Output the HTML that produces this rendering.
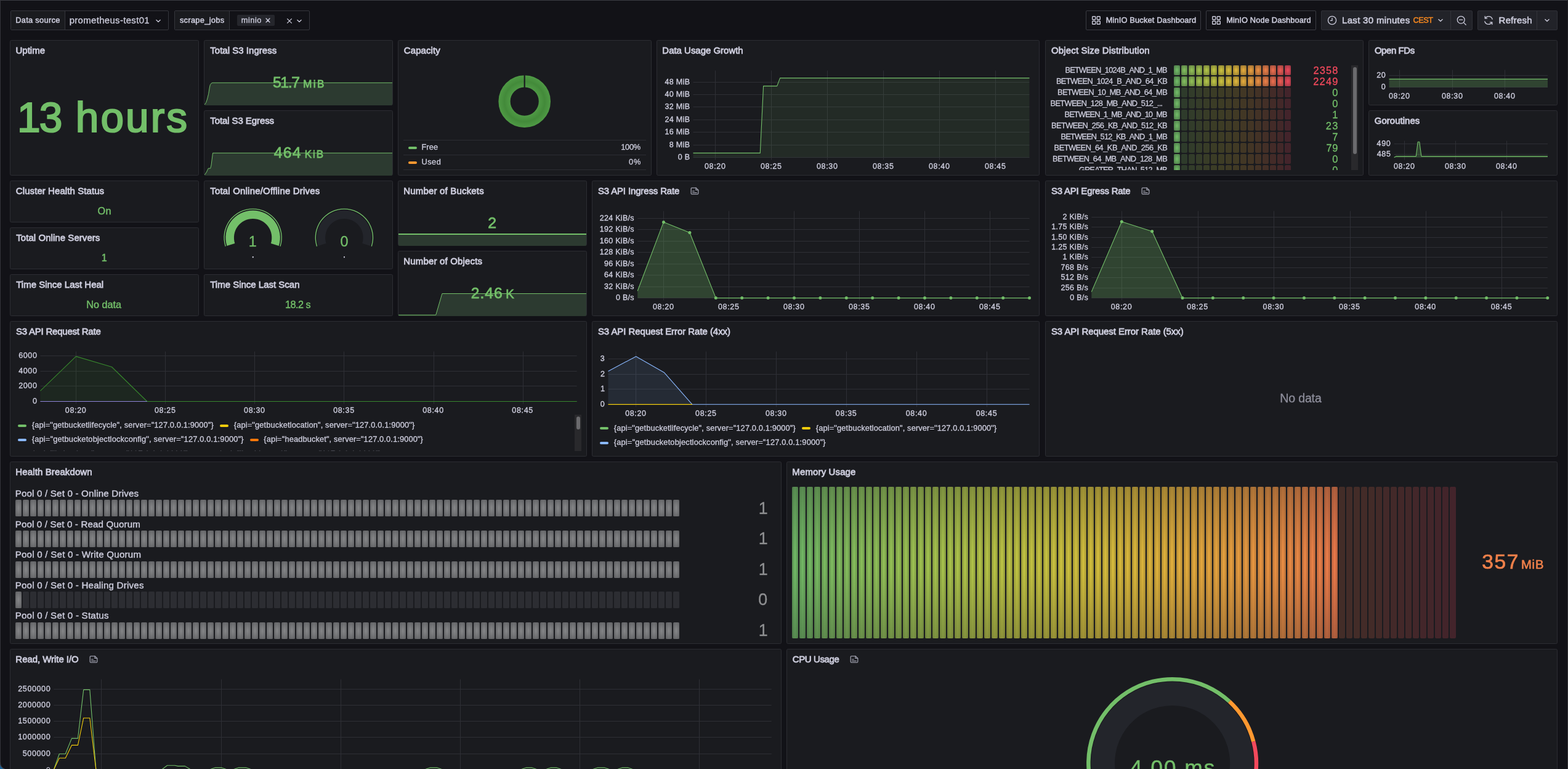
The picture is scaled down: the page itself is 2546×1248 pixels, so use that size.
<!DOCTYPE html>
<html lang="en"><head><meta charset="utf-8"><title>MinIO Dashboard</title>
<style>
*{box-sizing:border-box;margin:0;padding:0}
html,body{width:2546px;height:1248px;overflow:hidden;background:#121217}
body{position:relative;font-family:'Liberation Sans',sans-serif;color:#ccccdc;-webkit-font-smoothing:antialiased}
.panel{position:absolute;background:#1a1b1f;border:1px solid #2c2d33;border-radius:2.5px}
.t{position:absolute;white-space:pre;font-weight:400;margin:0}
h2.t{font-weight:400}
.b{position:absolute}
svg{position:absolute;overflow:visible}
svg text{font-family:'Liberation Sans',sans-serif;white-space:pre}
.ctl{position:absolute;border:1px solid #34363d;border-radius:2px;height:32px;top:17px}
</style></head>
<body>
<main>
<div class="chrome">
<div class="b" style="left:0;top:0;width:2546px;height:1px;background:#3c3d43"></div>
<div class="b" style="left:0;top:0;width:1px;height:1248px;background:#34353b"></div>
<div class="b" style="left:2545px;top:0;width:1px;height:1248px;background:linear-gradient(#1f1f23,#38383b)"></div>
<svg style="left:0;top:1236px;z-index:5" width="12" height="12" viewBox="0 1236 12 12"><path d="M0 1237.2 A10.3 10.3 0 0 0 7 1248 L0 1248 Z" fill="#1b5f93"/><path d="M0.5 1237 A10 10 0 0 0 7.5 1248" fill="none" stroke="#3e3f45" stroke-width="1.2"/></svg>
</div>
<header class="controls">
<div class="ctl" style="left:17px;width:257px;border-color:#35363c"></div>
<div class="b" style="left:18px;top:18px;width:88px;height:30px;background:#1a1b1f;border-right:1px solid #35363c;border-radius:2px 0 0 2px"></div>
<label class="t" style="left:25.2px;top:25px;font-size:12.84px;line-height:15px;color:#ccccdc;letter-spacing:0.3px;-webkit-text-stroke:0.5px #ccccdc;">Data source</label>
<span class="t" style="left:112.68px;top:24px;font-size:14.98px;line-height:17px;color:#ccccdc;letter-spacing:0.32px;-webkit-text-stroke:0.3px #ccccdc;">prometheus-test01</span>
<svg style="left:251px;top:27.8px" width="12" height="12" viewBox="-6 -6 12 12"><path d="M-3.1 -1.55 L0 1.55 L3.1 -1.55" fill="none" stroke="#ccccdc" stroke-width="1.3" stroke-linecap="round" stroke-linejoin="round"/></svg>
<div class="ctl" style="left:283px;width:220px;border-color:#35363c"></div>
<div class="b" style="left:284px;top:18px;width:89px;height:30px;background:#1a1b1f;border-right:1px solid #35363c;border-radius:2px 0 0 2px"></div>
<label class="t" style="left:291.89px;top:25px;font-size:12.84px;line-height:15px;color:#ccccdc;letter-spacing:0.31px;-webkit-text-stroke:0.5px #ccccdc;">scrape_jobs</label>
<div class="b" style="left:385px;top:24px;width:61px;height:18px;background:#25262c;border-radius:2px"></div>
<span class="t" style="left:391.8px;top:25px;font-size:12.84px;line-height:15px;color:#ccccdc;letter-spacing:0.48px;-webkit-text-stroke:0.3px #ccccdc;">minio</span>
<svg style="left:429px;top:27px" width="12" height="12" viewBox="-6 -6 12 12"><path d="M-2.9 -2.9 L2.9 2.9 M2.9 -2.9 L-2.9 2.9" fill="none" stroke="#ccccdc" stroke-width="1.4" stroke-linecap="round"/></svg>
<svg style="left:464px;top:28px" width="12" height="12" viewBox="-6 -6 12 12"><path d="M-3.4 -3.4 L3.4 3.4 M3.4 -3.4 L-3.4 3.4" fill="none" stroke="#ccccdc" stroke-width="1.3" stroke-linecap="round"/></svg>
<svg style="left:480px;top:28px" width="12" height="12" viewBox="-6 -6 12 12"><path d="M-3.1 -1.55 L0 1.55 L3.1 -1.55" fill="none" stroke="#ccccdc" stroke-width="1.3" stroke-linecap="round" stroke-linejoin="round"/></svg>
<div class="ctl" style="left:1763px;width:187px;border-color:#3a3b42"></div>
<svg style="left:1773px;top:26px" width="14" height="14" viewBox="0 0 14 14"><rect x="0.7" y="0.7" width="5" height="5" rx="0.8" fill="none" stroke="#ccccdc" stroke-width="1.4"/><rect x="8.3" y="0.7" width="5" height="5" rx="0.8" fill="none" stroke="#ccccdc" stroke-width="1.4"/><rect x="0.7" y="8.3" width="5" height="5" rx="0.8" fill="none" stroke="#ccccdc" stroke-width="1.4"/><rect x="8.3" y="8.3" width="5" height="5" rx="0.8" fill="none" stroke="#ccccdc" stroke-width="1.4"/></svg>
<span class="t" style="left:1795.7px;top:25px;font-size:12.84px;line-height:15px;color:#ccccdc;letter-spacing:0.15px;-webkit-text-stroke:0.5px #ccccdc;">MinIO Bucket Dashboard</span>
<div class="ctl" style="left:1958px;width:179px;border-color:#3a3b42"></div>
<svg style="left:1968px;top:26px" width="14" height="14" viewBox="0 0 14 14"><rect x="0.7" y="0.7" width="5" height="5" rx="0.8" fill="none" stroke="#ccccdc" stroke-width="1.4"/><rect x="8.3" y="0.7" width="5" height="5" rx="0.8" fill="none" stroke="#ccccdc" stroke-width="1.4"/><rect x="0.7" y="8.3" width="5" height="5" rx="0.8" fill="none" stroke="#ccccdc" stroke-width="1.4"/><rect x="8.3" y="8.3" width="5" height="5" rx="0.8" fill="none" stroke="#ccccdc" stroke-width="1.4"/></svg>
<span class="t" style="left:1991.2px;top:25px;font-size:12.84px;line-height:15px;color:#ccccdc;letter-spacing:0.14px;-webkit-text-stroke:0.5px #ccccdc;">MinIO Node Dashboard</span>
<div class="ctl" style="left:2145px;width:246px;background:#222329;border-color:#303138"></div>
<div class="b" style="left:2355px;top:18px;width:1px;height:30px;background:#34353b"></div>
<svg style="left:2155px;top:25px" width="16" height="16" viewBox="0 0 16 16"><circle cx="8" cy="8" r="6.6" fill="none" stroke="#ccccdc" stroke-width="1.3"/><path d="M8 4.3 V8.4 H5.4" fill="none" stroke="#ccccdc" stroke-width="1.3" stroke-linecap="round" stroke-linejoin="round"/></svg>
<span class="t" style="left:2179.07px;top:24px;font-size:14.98px;line-height:17px;color:#ccccdc;letter-spacing:0.32px;-webkit-text-stroke:0.6px #ccccdc;">Last 30 minutes</span>
<span class="t" style="left:2294.6px;top:25px;font-size:12.84px;line-height:15px;color:#f5871f;letter-spacing:-0.59px;-webkit-text-stroke:0.5px #f5871f;">CEST</span>
<svg style="left:2333px;top:27px" width="12" height="12" viewBox="-6 -6 12 12"><path d="M-3.1 -1.55 L0 1.55 L3.1 -1.55" fill="none" stroke="#ccccdc" stroke-width="1.3" stroke-linecap="round" stroke-linejoin="round"/></svg>
<svg style="left:2365px;top:25px" width="17" height="17" viewBox="0 0 17 17"><circle cx="7.2" cy="7.2" r="5.9" fill="none" stroke="#ccccdc" stroke-width="1.3"/><path d="M4.6 7.2 H9.8 M11.6 11.6 L15.2 15.2" fill="none" stroke="#ccccdc" stroke-width="1.3" stroke-linecap="round"/></svg>
<div class="ctl" style="left:2399px;width:130px;background:#222329;border-color:#303138"></div>
<div class="b" style="left:2495px;top:18px;width:1px;height:30px;background:#34353b"></div>
<svg style="left:2409px;top:25px" width="16" height="16" viewBox="0 0 16 16"><g fill="none" stroke="#ccccdc" stroke-width="1.3" stroke-linecap="round" stroke-linejoin="round"><path d="M14.2 6.2 A6.4 6.4 0 0 0 2.6 4.6"/><path d="M1.8 9.8 A6.4 6.4 0 0 0 13.4 11.4"/><path d="M2.2 1.4 V4.8 H5.6"/><path d="M13.8 14.6 V11.2 H10.4"/></g></svg>
<span class="t" style="left:2433.57px;top:24px;font-size:14.98px;line-height:17px;color:#ccccdc;letter-spacing:0.28px;-webkit-text-stroke:0.6px #ccccdc;">Refresh</span>
<svg style="left:2506px;top:27px" width="12" height="12" viewBox="-6 -6 12 12"><path d="M-3.1 -1.55 L0 1.55 L3.1 -1.55" fill="none" stroke="#ccccdc" stroke-width="1.3" stroke-linecap="round" stroke-linejoin="round"/></svg>
</header>
<section class="p" id="panel-uptime" aria-label="Uptime">
<div class="panel" style="left:16px;top:65px;width:307px;height:220px"></div>
<h2 class="t" style="left:25.44px;top:73px;font-size:14.98px;line-height:17px;color:#ccccdc;letter-spacing:0.04px;-webkit-text-stroke:0.8px #ccccdc;">Uptime</h2>
<div class="big"><span class="t" style="left:27.88px;top:153px;font-size:67.6px;line-height:75px;color:#73bf69;letter-spacing:-1.8px;-webkit-text-stroke:2.2px #73bf69;">13 </span><span class="t" style="left:122.81px;top:153px;font-size:67.6px;line-height:75px;color:#73bf69;letter-spacing:3.06px;-webkit-text-stroke:2.2px #73bf69;">hours</span></div>
</section>
<section class="p" id="panel-ingress" aria-label="Total S3 Ingress">
<div class="panel" style="left:331px;top:65px;width:307px;height:106px"></div>
<h2 class="t" style="left:341.26px;top:73px;font-size:14.98px;line-height:17px;color:#ccccdc;letter-spacing:0.04px;-webkit-text-stroke:0.8px #ccccdc;">Total S3 Ingress</h2>
<svg style="left:331px;top:65px" width="307" height="106" viewBox="331 65 307 106"><clipPath id="c331_65"><rect x="332" y="65" width="305" height="106" rx="2.5"/></clipPath><g clip-path="url(#c331_65)"><path d="M332 170.2 L334.5 166.5 L336.5 161 L338.6 152.5 L340.3 142 L341.3 137.6 L343 135.3 L344.9 134.3 L637 134.3 L637 134.3 L637 171 L332 171 Z" fill="#2c3a30"/><path d="M332 170.2 L334.5 166.5 L336.5 161 L338.6 152.5 L340.3 142 L341.3 137.6 L343 135.3 L344.9 134.3 L637 134.3 L637 134.3" fill="none" stroke="#73bf69" stroke-width="1" stroke-linejoin="round"/></g></svg>
<span class="t" style="left:442.91px;top:120px;font-size:24.72px;line-height:27px;color:#73bf69;letter-spacing:-1.3px;-webkit-text-stroke:0.8px #73bf69;">51.7</span>
<span class="t" style="left:492.21px;top:127px;font-size:16.96px;line-height:19px;color:#73bf69;letter-spacing:2.51px;-webkit-text-stroke:0.8px #73bf69;">MiB</span>
</section>
<section class="p" id="panel-egress" aria-label="Total S3 Egress">
<div class="panel" style="left:331px;top:179px;width:307px;height:106px"></div>
<h2 class="t" style="left:341.26px;top:187px;font-size:14.98px;line-height:17px;color:#ccccdc;letter-spacing:-0.07px;-webkit-text-stroke:0.8px #ccccdc;">Total S3 Egress</h2>
<svg style="left:331px;top:179px" width="307" height="106" viewBox="331 179 307 106"><clipPath id="c331_179"><rect x="332" y="179" width="305" height="106" rx="2.5"/></clipPath><g clip-path="url(#c331_179)"><path d="M332 284.2 L335.5 279 L338.3 273.2 L341.7 273.2 L343 268 L345.5 248.3 L637 248.3 L637 248.3 L637 285 L332 285 Z" fill="#2c3a30"/><path d="M332 284.2 L335.5 279 L338.3 273.2 L341.7 273.2 L343 268 L345.5 248.3 L637 248.3 L637 248.3" fill="none" stroke="#73bf69" stroke-width="1" stroke-linejoin="round"/></g></svg>
<span class="t" style="left:444.63px;top:234px;font-size:24.72px;line-height:27px;color:#73bf69;letter-spacing:1.27px;-webkit-text-stroke:0.8px #73bf69;">464</span>
<span class="t" style="left:494.71px;top:241px;font-size:16.96px;line-height:19px;color:#73bf69;letter-spacing:2.01px;-webkit-text-stroke:0.8px #73bf69;">KiB</span>
</section>
<section class="p" id="panel-capacity" aria-label="Capacity">
<div class="panel" style="left:646px;top:65px;width:412px;height:220px"></div>
<h2 class="t" style="left:655.84px;top:73px;font-size:14.98px;line-height:17px;color:#ccccdc;letter-spacing:0.09px;-webkit-text-stroke:0.8px #ccccdc;">Capacity</h2>
<svg style="left:646px;top:65px" width="412" height="220" viewBox="646 65 412 220" ><defs><radialGradient id="pie" gradientUnits="userSpaceOnUse" cx="851.7" cy="164.6" r="42.3"><stop offset="0.546" stop-color="#4f9a45"/><stop offset="0.773" stop-color="#438a3a"/><stop offset="1" stop-color="#4f9a45"/></radialGradient></defs><circle cx="851.7" cy="164.6" r="32.7" fill="none" stroke="url(#pie)" stroke-width="19.199999999999996"/><path d="M851.7 121.3 V142.5" stroke="#1a1b1f" stroke-width="2.2"/></svg>
<div class="b" style="left:655px;top:227px;width:394px;height:1px;background:#2c2d33"></div>
<div class="b" style="left:655px;top:251px;width:394px;height:1px;background:#2c2d33"></div>
<div class="b" style="left:655px;top:275px;width:394px;height:1px;background:#2c2d33"></div>
<div class="b" style="left:663px;top:238px;width:14px;height:4px;border-radius:2px;background:#73bf69"></div>
<span class="t" style="left:684.4px;top:231px;font-size:12.84px;line-height:15px;color:#ccccdc;letter-spacing:0.14px;-webkit-text-stroke:0.3px #ccccdc;">Free</span>
<span class="t" style="left:1008.17px;top:231px;font-size:12.84px;line-height:15px;color:#ccccdc;letter-spacing:-0.23px;-webkit-text-stroke:0.3px #ccccdc;">100%</span>
<div class="b" style="left:663px;top:262px;width:14px;height:4px;border-radius:2px;background:#ff9830"></div>
<span class="t" style="left:684.46px;top:255px;font-size:12.84px;line-height:15px;color:#ccccdc;letter-spacing:0.46px;-webkit-text-stroke:0.3px #ccccdc;">Used</span>
<span class="t" style="left:1021.05px;top:255px;font-size:12.84px;line-height:15px;color:#ccccdc;letter-spacing:0.71px;-webkit-text-stroke:0.3px #ccccdc;">0%</span>
</section>
<section class="p" id="panel-growth" aria-label="Data Usage Growth">
<div class="panel" style="left:1066px;top:65px;width:622px;height:220px"></div>
<h2 class="t" style="left:1075.37px;top:73px;font-size:14.98px;line-height:17px;color:#ccccdc;letter-spacing:-0.01px;-webkit-text-stroke:0.8px #ccccdc;">Data Usage Growth</h2>
<svg style="left:1066px;top:65px" width="622" height="220" viewBox="1066 65 622 220" ><path d="M1125.5 133.5H1671.5M1125.5 153.5H1671.5M1125.5 173.5H1671.5M1125.5 194.5H1671.5M1125.5 214.5H1671.5M1125.5 235.5H1671.5M1125.5 255.5H1671.5M1161.5 114.5V259.5M1252.5 114.5V259.5M1343.5 114.5V259.5M1434.5 114.5V259.5M1525.5 114.5V259.5M1616.5 114.5V259.5" fill="none" stroke="#2e2f35" stroke-width="1"/><path d="M1125.5 248.4 L1234.3 248.4 L1239.6 139.6 L1261.7 139.6 L1266.6 126.6 L1671.5 126.6 L1671.5 255.5 L1125.5 255.5 Z" fill="#73bf69" fill-opacity="0.1"/><path d="M1125.5 248.4 L1234.3 248.4 L1239.6 139.6 L1261.7 139.6 L1266.6 126.6 L1671.5 126.6" fill="none" stroke="#73bf69" stroke-width="1.1" stroke-linejoin="round" /><text x="1079.47" y="137.1" fill="#ccccdc" stroke="#ccccdc" stroke-width="0.35" style="font-size:12.5px;letter-spacing:0.32px;">48 MiB</text><text x="1079.47" y="157.1" fill="#ccccdc" stroke="#ccccdc" stroke-width="0.35" style="font-size:12.5px;letter-spacing:0.32px;">40 MiB</text><text x="1079.48" y="177.1" fill="#ccccdc" stroke="#ccccdc" stroke-width="0.35" style="font-size:12.5px;letter-spacing:0.32px;">32 MiB</text><text x="1079.49" y="198.1" fill="#ccccdc" stroke="#ccccdc" stroke-width="0.35" style="font-size:12.5px;letter-spacing:0.32px;">24 MiB</text><text x="1079.51" y="218.1" fill="#ccccdc" stroke="#ccccdc" stroke-width="0.35" style="font-size:12.5px;letter-spacing:0.31px;">16 MiB</text><text x="1086.79" y="239.1" fill="#ccccdc" stroke="#ccccdc" stroke-width="0.35" style="font-size:12.5px;letter-spacing:0.31px;">8 MiB</text><text x="1100.67" y="259.1" fill="#ccccdc" stroke="#ccccdc" stroke-width="0.35" style="font-size:12.5px;letter-spacing:0.28px;">0 B</text><text x="1143.94" y="273.6" fill="#ccccdc" stroke="#ccccdc" stroke-width="0.35" style="font-size:12.5px;letter-spacing:0.66px;">08:20</text><text x="1234.94" y="273.6" fill="#ccccdc" stroke="#ccccdc" stroke-width="0.35" style="font-size:12.5px;letter-spacing:0.67px;">08:25</text><text x="1325.94" y="273.6" fill="#ccccdc" stroke="#ccccdc" stroke-width="0.35" style="font-size:12.5px;letter-spacing:0.66px;">08:30</text><text x="1416.94" y="273.6" fill="#ccccdc" stroke="#ccccdc" stroke-width="0.35" style="font-size:12.5px;letter-spacing:0.67px;">08:35</text><text x="1507.94" y="273.6" fill="#ccccdc" stroke="#ccccdc" stroke-width="0.35" style="font-size:12.5px;letter-spacing:0.66px;">08:40</text><text x="1598.94" y="273.6" fill="#ccccdc" stroke="#ccccdc" stroke-width="0.35" style="font-size:12.5px;letter-spacing:0.67px;">08:45</text></svg>
</section>
<section class="p" id="panel-objsize" aria-label="Object Size Distribution">
<div class="panel" style="left:1697px;top:65px;width:517px;height:220px"></div>
<h2 class="t" style="left:1706.89px;top:73px;font-size:14.98px;line-height:17px;color:#ccccdc;letter-spacing:0.18px;-webkit-text-stroke:0.8px #ccccdc;">Object Size Distribution</h2>
<div class="b" style="left:1700px;top:106px;width:495px;height:170px;overflow:hidden"><span class="t" style="left:29.5px;top:0px;font-size:12.84px;line-height:15px;color:#ccccdc;letter-spacing:-0.78px;-webkit-text-stroke:0.3px #ccccdc;">BETWEEN_1024B_AND_1_MB</span><span class="t" style="left:432.53px;top:-1px;font-size:16.4px;line-height:18px;color:#f2495c;letter-spacing:1.12px;-webkit-text-stroke:0.3px #f2495c;">2358</span><span class="t" style="left:14.9px;top:18px;font-size:12.84px;line-height:15px;color:#ccccdc;letter-spacing:-0.6px;-webkit-text-stroke:0.3px #ccccdc;">BETWEEN_1024_B_AND_64_KB</span><span class="t" style="left:432.23px;top:17px;font-size:16.4px;line-height:18px;color:#f2495c;letter-spacing:1.24px;-webkit-text-stroke:0.3px #f2495c;">2249</span><span class="t" style="left:17px;top:36px;font-size:12.84px;line-height:15px;color:#ccccdc;letter-spacing:-0.66px;-webkit-text-stroke:0.3px #ccccdc;">BETWEEN_10_MB_AND_64_MB</span><span class="t" style="left:463.17px;top:35px;font-size:16.4px;line-height:18px;color:#73bf69;-webkit-text-stroke:0.3px #73bf69;">0</span><span class="t" style="left:5.5px;top:54px;font-size:12.84px;line-height:15px;color:#ccccdc;letter-spacing:-0.65px;-webkit-text-stroke:0.3px #ccccdc;">BETWEEN_128_MB_AND_512_...</span><span class="t" style="left:463.17px;top:53px;font-size:16.4px;line-height:18px;color:#73bf69;-webkit-text-stroke:0.3px #73bf69;">0</span><span class="t" style="left:28.5px;top:72px;font-size:12.84px;line-height:15px;color:#ccccdc;letter-spacing:-0.9px;-webkit-text-stroke:0.3px #ccccdc;">BETWEEN_1_MB_AND_10_MB</span><span class="t" style="left:463.33px;top:71px;font-size:16.4px;line-height:18px;color:#73bf69;-webkit-text-stroke:0.3px #73bf69;">1</span><span class="t" style="left:7.1px;top:90px;font-size:12.84px;line-height:15px;color:#ccccdc;letter-spacing:-0.61px;-webkit-text-stroke:0.3px #ccccdc;">BETWEEN_256_KB_AND_512_KB</span><span class="t" style="left:452.73px;top:89px;font-size:16.4px;line-height:18px;color:#73bf69;letter-spacing:1.41px;-webkit-text-stroke:0.3px #73bf69;">23</span><span class="t" style="left:22.5px;top:108px;font-size:12.84px;line-height:15px;color:#ccccdc;letter-spacing:-0.81px;-webkit-text-stroke:0.3px #ccccdc;">BETWEEN_512_KB_AND_1_MB</span><span class="t" style="left:463.35px;top:107px;font-size:16.4px;line-height:18px;color:#73bf69;-webkit-text-stroke:0.3px #73bf69;">7</span><span class="t" style="left:11.6px;top:126px;font-size:12.84px;line-height:15px;color:#ccccdc;letter-spacing:-0.52px;-webkit-text-stroke:0.3px #ccccdc;">BETWEEN_64_KB_AND_256_KB</span><span class="t" style="left:453.51px;top:125px;font-size:16.4px;line-height:18px;color:#73bf69;letter-spacing:0.68px;-webkit-text-stroke:0.3px #73bf69;">79</span><span class="t" style="left:9px;top:144px;font-size:12.84px;line-height:15px;color:#ccccdc;letter-spacing:-0.59px;-webkit-text-stroke:0.3px #ccccdc;">BETWEEN_64_MB_AND_128_MB</span><span class="t" style="left:463.17px;top:143px;font-size:16.4px;line-height:18px;color:#73bf69;-webkit-text-stroke:0.3px #73bf69;">0</span><span class="t" style="left:51.7px;top:162px;font-size:12.84px;line-height:15px;color:#ccccdc;letter-spacing:-0.78px;-webkit-text-stroke:0.3px #ccccdc;">GREATER_THAN_512_MB</span><span class="t" style="left:463.17px;top:161px;font-size:16.4px;line-height:18px;color:#73bf69;-webkit-text-stroke:0.3px #73bf69;">0</span><div class="b" style="left:200px;top:0;width:295px;height:180px"><svg style="left:0;top:0" width="300" height="180" viewBox="1900 106 300 180"><defs><radialGradient id="lcdg" cx="0.5" cy="0.5" r="0.7071"><stop offset="0.1" stop-color="#1a1b1f" stop-opacity="0"/><stop offset="1" stop-color="#1a1b1f" stop-opacity="0.42"/></radialGradient></defs><rect x="1906" y="106" width="10" height="16" rx="2" fill="#6fb765"/><rect x="1918" y="106" width="10" height="16" rx="2" fill="#80bb5d"/><rect x="1930" y="106" width="10" height="16" rx="2" fill="#90be56"/><rect x="1942" y="106" width="10" height="16" rx="2" fill="#a0c14f"/><rect x="1954" y="106" width="10" height="16" rx="2" fill="#b0c248"/><rect x="1966" y="106" width="10" height="16" rx="2" fill="#bdc243"/><rect x="1978" y="106" width="10" height="16" rx="2" fill="#cac03f"/><rect x="1990" y="106" width="10" height="16" rx="2" fill="#d4bb3c"/><rect x="2002" y="106" width="10" height="16" rx="2" fill="#dcb43b"/><rect x="2014" y="106" width="10" height="16" rx="2" fill="#e2a93c"/><rect x="2026" y="106" width="10" height="16" rx="2" fill="#e69d3f"/><rect x="2038" y="106" width="10" height="16" rx="2" fill="#e88e42"/><rect x="2050" y="106" width="10" height="16" rx="2" fill="#e97d47"/><rect x="2062" y="106" width="10" height="16" rx="2" fill="#e96c4d"/><rect x="2074" y="106" width="10" height="16" rx="2" fill="#e85a53"/><rect x="2086" y="106" width="10" height="16" rx="2" fill="#e74759"/><rect x="1906" y="106" width="10" height="16" rx="2" fill="url(#lcdg)"/><rect x="1918" y="106" width="10" height="16" rx="2" fill="url(#lcdg)"/><rect x="1930" y="106" width="10" height="16" rx="2" fill="url(#lcdg)"/><rect x="1942" y="106" width="10" height="16" rx="2" fill="url(#lcdg)"/><rect x="1954" y="106" width="10" height="16" rx="2" fill="url(#lcdg)"/><rect x="1966" y="106" width="10" height="16" rx="2" fill="url(#lcdg)"/><rect x="1978" y="106" width="10" height="16" rx="2" fill="url(#lcdg)"/><rect x="1990" y="106" width="10" height="16" rx="2" fill="url(#lcdg)"/><rect x="2002" y="106" width="10" height="16" rx="2" fill="url(#lcdg)"/><rect x="2014" y="106" width="10" height="16" rx="2" fill="url(#lcdg)"/><rect x="2026" y="106" width="10" height="16" rx="2" fill="url(#lcdg)"/><rect x="2038" y="106" width="10" height="16" rx="2" fill="url(#lcdg)"/><rect x="2050" y="106" width="10" height="16" rx="2" fill="url(#lcdg)"/><rect x="2062" y="106" width="10" height="16" rx="2" fill="url(#lcdg)"/><rect x="2074" y="106" width="10" height="16" rx="2" fill="url(#lcdg)"/><rect x="2086" y="106" width="10" height="16" rx="2" fill="url(#lcdg)"/><rect x="1906" y="124" width="10" height="16" rx="2" fill="#6fb765"/><rect x="1918" y="124" width="10" height="16" rx="2" fill="#80bb5d"/><rect x="1930" y="124" width="10" height="16" rx="2" fill="#90be56"/><rect x="1942" y="124" width="10" height="16" rx="2" fill="#a0c14f"/><rect x="1954" y="124" width="10" height="16" rx="2" fill="#b0c248"/><rect x="1966" y="124" width="10" height="16" rx="2" fill="#bdc243"/><rect x="1978" y="124" width="10" height="16" rx="2" fill="#cac03f"/><rect x="1990" y="124" width="10" height="16" rx="2" fill="#d4bb3c"/><rect x="2002" y="124" width="10" height="16" rx="2" fill="#dcb43b"/><rect x="2014" y="124" width="10" height="16" rx="2" fill="#e2a93c"/><rect x="2026" y="124" width="10" height="16" rx="2" fill="#e69d3f"/><rect x="2038" y="124" width="10" height="16" rx="2" fill="#e88e42"/><rect x="2050" y="124" width="10" height="16" rx="2" fill="#e97d47"/><rect x="2062" y="124" width="10" height="16" rx="2" fill="#e96c4d"/><rect x="2074" y="124" width="10" height="16" rx="2" fill="#e85a53"/><rect x="2086" y="124" width="10" height="16" rx="2" fill="#e74759"/><rect x="1906" y="124" width="10" height="16" rx="2" fill="url(#lcdg)"/><rect x="1918" y="124" width="10" height="16" rx="2" fill="url(#lcdg)"/><rect x="1930" y="124" width="10" height="16" rx="2" fill="url(#lcdg)"/><rect x="1942" y="124" width="10" height="16" rx="2" fill="url(#lcdg)"/><rect x="1954" y="124" width="10" height="16" rx="2" fill="url(#lcdg)"/><rect x="1966" y="124" width="10" height="16" rx="2" fill="url(#lcdg)"/><rect x="1978" y="124" width="10" height="16" rx="2" fill="url(#lcdg)"/><rect x="1990" y="124" width="10" height="16" rx="2" fill="url(#lcdg)"/><rect x="2002" y="124" width="10" height="16" rx="2" fill="url(#lcdg)"/><rect x="2014" y="124" width="10" height="16" rx="2" fill="url(#lcdg)"/><rect x="2026" y="124" width="10" height="16" rx="2" fill="url(#lcdg)"/><rect x="2038" y="124" width="10" height="16" rx="2" fill="url(#lcdg)"/><rect x="2050" y="124" width="10" height="16" rx="2" fill="url(#lcdg)"/><rect x="2062" y="124" width="10" height="16" rx="2" fill="url(#lcdg)"/><rect x="2074" y="124" width="10" height="16" rx="2" fill="url(#lcdg)"/><rect x="2086" y="124" width="10" height="16" rx="2" fill="url(#lcdg)"/><rect x="1906" y="142" width="10" height="16" rx="2" fill="#6fb765"/><rect x="1918" y="142" width="10" height="16" rx="2" fill="#2e3b2b"/><rect x="1930" y="142" width="10" height="16" rx="2" fill="#323c2a"/><rect x="1942" y="142" width="10" height="16" rx="2" fill="#353c29"/><rect x="1954" y="142" width="10" height="16" rx="2" fill="#383c27"/><rect x="1966" y="142" width="10" height="16" rx="2" fill="#3b3c26"/><rect x="1978" y="142" width="10" height="16" rx="2" fill="#3d3c25"/><rect x="1990" y="142" width="10" height="16" rx="2" fill="#3f3b25"/><rect x="2002" y="142" width="10" height="16" rx="2" fill="#413a25"/><rect x="2014" y="142" width="10" height="16" rx="2" fill="#423725"/><rect x="2026" y="142" width="10" height="16" rx="2" fill="#433525"/><rect x="2038" y="142" width="10" height="16" rx="2" fill="#433226"/><rect x="2050" y="142" width="10" height="16" rx="2" fill="#432f27"/><rect x="2062" y="142" width="10" height="16" rx="2" fill="#432b28"/><rect x="2074" y="142" width="10" height="16" rx="2" fill="#432829"/><rect x="2086" y="142" width="10" height="16" rx="2" fill="#43242b"/><rect x="1906" y="142" width="10" height="16" rx="2" fill="url(#lcdg)"/><rect x="1906" y="160" width="10" height="16" rx="2" fill="#6fb765"/><rect x="1918" y="160" width="10" height="16" rx="2" fill="#2e3b2b"/><rect x="1930" y="160" width="10" height="16" rx="2" fill="#323c2a"/><rect x="1942" y="160" width="10" height="16" rx="2" fill="#353c29"/><rect x="1954" y="160" width="10" height="16" rx="2" fill="#383c27"/><rect x="1966" y="160" width="10" height="16" rx="2" fill="#3b3c26"/><rect x="1978" y="160" width="10" height="16" rx="2" fill="#3d3c25"/><rect x="1990" y="160" width="10" height="16" rx="2" fill="#3f3b25"/><rect x="2002" y="160" width="10" height="16" rx="2" fill="#413a25"/><rect x="2014" y="160" width="10" height="16" rx="2" fill="#423725"/><rect x="2026" y="160" width="10" height="16" rx="2" fill="#433525"/><rect x="2038" y="160" width="10" height="16" rx="2" fill="#433226"/><rect x="2050" y="160" width="10" height="16" rx="2" fill="#432f27"/><rect x="2062" y="160" width="10" height="16" rx="2" fill="#432b28"/><rect x="2074" y="160" width="10" height="16" rx="2" fill="#432829"/><rect x="2086" y="160" width="10" height="16" rx="2" fill="#43242b"/><rect x="1906" y="160" width="10" height="16" rx="2" fill="url(#lcdg)"/><rect x="1906" y="178" width="10" height="16" rx="2" fill="#6fb765"/><rect x="1918" y="178" width="10" height="16" rx="2" fill="#2e3b2b"/><rect x="1930" y="178" width="10" height="16" rx="2" fill="#323c2a"/><rect x="1942" y="178" width="10" height="16" rx="2" fill="#353c29"/><rect x="1954" y="178" width="10" height="16" rx="2" fill="#383c27"/><rect x="1966" y="178" width="10" height="16" rx="2" fill="#3b3c26"/><rect x="1978" y="178" width="10" height="16" rx="2" fill="#3d3c25"/><rect x="1990" y="178" width="10" height="16" rx="2" fill="#3f3b25"/><rect x="2002" y="178" width="10" height="16" rx="2" fill="#413a25"/><rect x="2014" y="178" width="10" height="16" rx="2" fill="#423725"/><rect x="2026" y="178" width="10" height="16" rx="2" fill="#433525"/><rect x="2038" y="178" width="10" height="16" rx="2" fill="#433226"/><rect x="2050" y="178" width="10" height="16" rx="2" fill="#432f27"/><rect x="2062" y="178" width="10" height="16" rx="2" fill="#432b28"/><rect x="2074" y="178" width="10" height="16" rx="2" fill="#432829"/><rect x="2086" y="178" width="10" height="16" rx="2" fill="#43242b"/><rect x="1906" y="178" width="10" height="16" rx="2" fill="url(#lcdg)"/><rect x="1906" y="196" width="10" height="16" rx="2" fill="#6fb765"/><rect x="1918" y="196" width="10" height="16" rx="2" fill="#2e3b2b"/><rect x="1930" y="196" width="10" height="16" rx="2" fill="#323c2a"/><rect x="1942" y="196" width="10" height="16" rx="2" fill="#353c29"/><rect x="1954" y="196" width="10" height="16" rx="2" fill="#383c27"/><rect x="1966" y="196" width="10" height="16" rx="2" fill="#3b3c26"/><rect x="1978" y="196" width="10" height="16" rx="2" fill="#3d3c25"/><rect x="1990" y="196" width="10" height="16" rx="2" fill="#3f3b25"/><rect x="2002" y="196" width="10" height="16" rx="2" fill="#413a25"/><rect x="2014" y="196" width="10" height="16" rx="2" fill="#423725"/><rect x="2026" y="196" width="10" height="16" rx="2" fill="#433525"/><rect x="2038" y="196" width="10" height="16" rx="2" fill="#433226"/><rect x="2050" y="196" width="10" height="16" rx="2" fill="#432f27"/><rect x="2062" y="196" width="10" height="16" rx="2" fill="#432b28"/><rect x="2074" y="196" width="10" height="16" rx="2" fill="#432829"/><rect x="2086" y="196" width="10" height="16" rx="2" fill="#43242b"/><rect x="1906" y="196" width="10" height="16" rx="2" fill="url(#lcdg)"/><rect x="1906" y="214" width="10" height="16" rx="2" fill="#6fb765"/><rect x="1918" y="214" width="10" height="16" rx="2" fill="#2e3b2b"/><rect x="1930" y="214" width="10" height="16" rx="2" fill="#323c2a"/><rect x="1942" y="214" width="10" height="16" rx="2" fill="#353c29"/><rect x="1954" y="214" width="10" height="16" rx="2" fill="#383c27"/><rect x="1966" y="214" width="10" height="16" rx="2" fill="#3b3c26"/><rect x="1978" y="214" width="10" height="16" rx="2" fill="#3d3c25"/><rect x="1990" y="214" width="10" height="16" rx="2" fill="#3f3b25"/><rect x="2002" y="214" width="10" height="16" rx="2" fill="#413a25"/><rect x="2014" y="214" width="10" height="16" rx="2" fill="#423725"/><rect x="2026" y="214" width="10" height="16" rx="2" fill="#433525"/><rect x="2038" y="214" width="10" height="16" rx="2" fill="#433226"/><rect x="2050" y="214" width="10" height="16" rx="2" fill="#432f27"/><rect x="2062" y="214" width="10" height="16" rx="2" fill="#432b28"/><rect x="2074" y="214" width="10" height="16" rx="2" fill="#432829"/><rect x="2086" y="214" width="10" height="16" rx="2" fill="#43242b"/><rect x="1906" y="214" width="10" height="16" rx="2" fill="url(#lcdg)"/><rect x="1906" y="232" width="10" height="16" rx="2" fill="#6fb765"/><rect x="1918" y="232" width="10" height="16" rx="2" fill="#2e3b2b"/><rect x="1930" y="232" width="10" height="16" rx="2" fill="#323c2a"/><rect x="1942" y="232" width="10" height="16" rx="2" fill="#353c29"/><rect x="1954" y="232" width="10" height="16" rx="2" fill="#383c27"/><rect x="1966" y="232" width="10" height="16" rx="2" fill="#3b3c26"/><rect x="1978" y="232" width="10" height="16" rx="2" fill="#3d3c25"/><rect x="1990" y="232" width="10" height="16" rx="2" fill="#3f3b25"/><rect x="2002" y="232" width="10" height="16" rx="2" fill="#413a25"/><rect x="2014" y="232" width="10" height="16" rx="2" fill="#423725"/><rect x="2026" y="232" width="10" height="16" rx="2" fill="#433525"/><rect x="2038" y="232" width="10" height="16" rx="2" fill="#433226"/><rect x="2050" y="232" width="10" height="16" rx="2" fill="#432f27"/><rect x="2062" y="232" width="10" height="16" rx="2" fill="#432b28"/><rect x="2074" y="232" width="10" height="16" rx="2" fill="#432829"/><rect x="2086" y="232" width="10" height="16" rx="2" fill="#43242b"/><rect x="1906" y="232" width="10" height="16" rx="2" fill="url(#lcdg)"/><rect x="1906" y="250" width="10" height="16" rx="2" fill="#6fb765"/><rect x="1918" y="250" width="10" height="16" rx="2" fill="#2e3b2b"/><rect x="1930" y="250" width="10" height="16" rx="2" fill="#323c2a"/><rect x="1942" y="250" width="10" height="16" rx="2" fill="#353c29"/><rect x="1954" y="250" width="10" height="16" rx="2" fill="#383c27"/><rect x="1966" y="250" width="10" height="16" rx="2" fill="#3b3c26"/><rect x="1978" y="250" width="10" height="16" rx="2" fill="#3d3c25"/><rect x="1990" y="250" width="10" height="16" rx="2" fill="#3f3b25"/><rect x="2002" y="250" width="10" height="16" rx="2" fill="#413a25"/><rect x="2014" y="250" width="10" height="16" rx="2" fill="#423725"/><rect x="2026" y="250" width="10" height="16" rx="2" fill="#433525"/><rect x="2038" y="250" width="10" height="16" rx="2" fill="#433226"/><rect x="2050" y="250" width="10" height="16" rx="2" fill="#432f27"/><rect x="2062" y="250" width="10" height="16" rx="2" fill="#432b28"/><rect x="2074" y="250" width="10" height="16" rx="2" fill="#432829"/><rect x="2086" y="250" width="10" height="16" rx="2" fill="#43242b"/><rect x="1906" y="250" width="10" height="16" rx="2" fill="url(#lcdg)"/><rect x="1906" y="268" width="10" height="16" rx="2" fill="#6fb765"/><rect x="1918" y="268" width="10" height="16" rx="2" fill="#2e3b2b"/><rect x="1930" y="268" width="10" height="16" rx="2" fill="#323c2a"/><rect x="1942" y="268" width="10" height="16" rx="2" fill="#353c29"/><rect x="1954" y="268" width="10" height="16" rx="2" fill="#383c27"/><rect x="1966" y="268" width="10" height="16" rx="2" fill="#3b3c26"/><rect x="1978" y="268" width="10" height="16" rx="2" fill="#3d3c25"/><rect x="1990" y="268" width="10" height="16" rx="2" fill="#3f3b25"/><rect x="2002" y="268" width="10" height="16" rx="2" fill="#413a25"/><rect x="2014" y="268" width="10" height="16" rx="2" fill="#423725"/><rect x="2026" y="268" width="10" height="16" rx="2" fill="#433525"/><rect x="2038" y="268" width="10" height="16" rx="2" fill="#433226"/><rect x="2050" y="268" width="10" height="16" rx="2" fill="#432f27"/><rect x="2062" y="268" width="10" height="16" rx="2" fill="#432b28"/><rect x="2074" y="268" width="10" height="16" rx="2" fill="#432829"/><rect x="2086" y="268" width="10" height="16" rx="2" fill="#43242b"/><rect x="1906" y="268" width="10" height="16" rx="2" fill="url(#lcdg)"/></svg></div></div>
<div class="b" style="left:2194px;top:106px;width:11px;height:170px;background:#29292c"></div>
<div class="b" style="left:2197px;top:109px;width:6px;height:141px;background:#6a6a6d;border-radius:3px"></div>
</section>
<section class="p" id="panel-fds" aria-label="Open FDs">
<div class="panel" style="left:2222px;top:65px;width:307px;height:106px"></div>
<h2 class="t" style="left:2231.89px;top:73px;font-size:14.98px;line-height:17px;color:#ccccdc;letter-spacing:-0.41px;-webkit-text-stroke:0.8px #ccccdc;">Open FDs</h2>
<svg style="left:2222px;top:65px" width="307" height="106" viewBox="2222 65 307 106" ><path d="M2255.5 122.5H2513M2255.5 141.5H2513M2272.5 113.5V145.5M2358.5 113.5V145.5M2443.5 113.5V145.5" fill="none" stroke="#2e2f35" stroke-width="1"/><path d="M2255.5 128.4 L2513 128.4 L2513 141.5 L2255.5 141.5 Z" fill="#73bf69" fill-opacity="0.25"/><path d="M2255.5 128.4 L2513 128.4" fill="none" stroke="#73bf69" stroke-width="1.2" stroke-linejoin="round" /><text x="2235.16" y="126.1" fill="#ccccdc" stroke="#ccccdc" stroke-width="0.35" style="font-size:12.5px;letter-spacing:0.75px;">20</text><text x="2242.86" y="145.1" fill="#ccccdc" stroke="#ccccdc" stroke-width="0.35" style="font-size:12.5px;">0</text><text x="2254.94" y="159.5" fill="#ccccdc" stroke="#ccccdc" stroke-width="0.35" style="font-size:12.5px;letter-spacing:0.66px;">08:20</text><text x="2340.94" y="159.5" fill="#ccccdc" stroke="#ccccdc" stroke-width="0.35" style="font-size:12.5px;letter-spacing:0.66px;">08:30</text><text x="2425.94" y="159.5" fill="#ccccdc" stroke="#ccccdc" stroke-width="0.35" style="font-size:12.5px;letter-spacing:0.66px;">08:40</text></svg>
</section>
<section class="p" id="panel-gor" aria-label="Goroutines">
<div class="panel" style="left:2222px;top:179px;width:307px;height:106px"></div>
<h2 class="t" style="left:2231.85px;top:187px;font-size:14.98px;line-height:17px;color:#ccccdc;letter-spacing:0.02px;-webkit-text-stroke:0.8px #ccccdc;">Goroutines</h2>
<svg style="left:2222px;top:179px" width="307" height="106" viewBox="2222 179 307 106" ><path d="M2263.7 233.5H2513M2263.7 250.5H2513M2280.5 228.5V259.5M2363.5 228.5V259.5M2446.5 228.5V259.5" fill="none" stroke="#2e2f35" stroke-width="1"/><path d="M2263.7 255.5 L2266.8 253.6 L2299.3 253.6 L2302.2 230.3 L2304.8 230.3 L2307.9 253.6 L2513 253.6 L2513 255.8 L2263.7 255.8 Z" fill="#73bf69" fill-opacity="0.25"/><path d="M2263.7 255.5 L2266.8 253.6 L2299.3 253.6 L2302.2 230.3 L2304.8 230.3 L2307.9 253.6 L2513 253.6" fill="none" stroke="#73bf69" stroke-width="1.1" stroke-linejoin="round" /><text x="2235.59" y="236.5" fill="#ccccdc" stroke="#ccccdc" stroke-width="0.35" style="font-size:12.5px;letter-spacing:0.68px;">490</text><text x="2235.63" y="253.5" fill="#ccccdc" stroke="#ccccdc" stroke-width="0.35" style="font-size:12.5px;letter-spacing:0.68px;">485</text><text x="2262.94" y="273.5" fill="#ccccdc" stroke="#ccccdc" stroke-width="0.35" style="font-size:12.5px;letter-spacing:0.66px;">08:20</text><text x="2345.94" y="273.5" fill="#ccccdc" stroke="#ccccdc" stroke-width="0.35" style="font-size:12.5px;letter-spacing:0.66px;">08:30</text><text x="2428.94" y="273.5" fill="#ccccdc" stroke="#ccccdc" stroke-width="0.35" style="font-size:12.5px;letter-spacing:0.66px;">08:40</text></svg>
</section>
<section class="p" id="panel-health" aria-label="Cluster Health Status">
<div class="panel" style="left:16px;top:293px;width:307px;height:68px"></div>
<h2 class="t" style="left:25.84px;top:301px;font-size:14.98px;line-height:17px;color:#ccccdc;letter-spacing:0.09px;-webkit-text-stroke:0.8px #ccccdc;">Cluster Health Status</h2>
<span class="t" style="left:158.53px;top:333px;font-size:16.2px;line-height:18px;color:#73bf69;letter-spacing:0.41px;-webkit-text-stroke:0.4px #73bf69;">On</span>
</section>
<section class="p" id="panel-servers" aria-label="Total Online Servers">
<div class="panel" style="left:16px;top:369px;width:307px;height:68px"></div>
<h2 class="t" style="left:26.26px;top:377px;font-size:14.98px;line-height:17px;color:#ccccdc;letter-spacing:0.07px;-webkit-text-stroke:0.8px #ccccdc;">Total Online Servers</h2>
<span class="t" style="left:164.77px;top:409px;font-size:16.2px;line-height:18px;color:#73bf69;-webkit-text-stroke:0.4px #73bf69;">1</span>
</section>
<section class="p" id="panel-heal" aria-label="Time Since Last Heal">
<div class="panel" style="left:16px;top:445px;width:307px;height:68px"></div>
<h2 class="t" style="left:26.26px;top:453px;font-size:14.98px;line-height:17px;color:#ccccdc;letter-spacing:0.01px;-webkit-text-stroke:0.8px #ccccdc;">Time Since Last Heal</h2>
<span class="t" style="left:140.17px;top:485px;font-size:16.2px;line-height:18px;color:#73bf69;letter-spacing:0.04px;-webkit-text-stroke:0.4px #73bf69;">No data</span>
</section>
<section class="p" id="panel-drives" aria-label="Total Online/Offline Drives">
<div class="panel" style="left:331px;top:293px;width:307px;height:144px"></div>
<h2 class="t" style="left:341.26px;top:301px;font-size:14.98px;line-height:17px;color:#ccccdc;letter-spacing:0.2px;-webkit-text-stroke:0.8px #ccccdc;">Total Online/Offline Drives</h2>
<svg style="left:331px;top:293px" width="307" height="144" viewBox="331 293 307 144" ><path d="M365.56 399.99 A47.25 47.25 0 1 1 455.64 399.99 L454.35 399.58 A45.9 45.9 0 1 0 366.85 399.58 Z" fill="#73bf69"/><path d="M368.47 399.06 A44.2 44.2 0 1 1 452.73 399.06 L439.86 394.98 A30.7 30.7 0 1 0 381.34 394.98 Z" fill="#73bf69"/><text x="403.77" y="400" fill="#73bf69" stroke="#73bf69" stroke-width="0.3" style="font-size:23.4px;">1</text><text x="408.65" y="417.8" fill="#d8d8e8" stroke="#d8d8e8" stroke-width="0.5" style="font-size:14px;">.</text><path d="M513.86 399.99 A47.25 47.25 0 1 1 603.94 399.99 L602.65 399.58 A45.9 45.9 0 1 0 515.15 399.58 Z" fill="#73bf69"/><path d="M516.77 399.06 A44.2 44.2 0 1 1 601.03 399.06 L588.16 394.98 A30.7 30.7 0 1 0 529.64 394.98 Z" fill="#23252b"/><text x="552.39" y="400" fill="#73bf69" stroke="#73bf69" stroke-width="0.3" style="font-size:23.4px;">0</text><text x="556.95" y="417.8" fill="#d8d8e8" stroke="#d8d8e8" stroke-width="0.5" style="font-size:14px;">.</text></svg>
</section>
<section class="p" id="panel-scan" aria-label="Time Since Last Scan">
<div class="panel" style="left:331px;top:445px;width:307px;height:68px"></div>
<h2 class="t" style="left:341.26px;top:453px;font-size:14.98px;line-height:17px;color:#ccccdc;letter-spacing:0.01px;-webkit-text-stroke:0.8px #ccccdc;">Time Since Last Scan</h2>
<span class="t" style="left:463.07px;top:485px;font-size:16.2px;line-height:18px;color:#73bf69;letter-spacing:-0.5px;-webkit-text-stroke:0.4px #73bf69;">18.2 s</span>
</section>
<section class="p" id="panel-buckets" aria-label="Number of Buckets">
<div class="panel" style="left:646px;top:293px;width:307px;height:106px"></div>
<h2 class="t" style="left:655.37px;top:301px;font-size:14.98px;line-height:17px;color:#ccccdc;letter-spacing:0.19px;-webkit-text-stroke:0.8px #ccccdc;">Number of Buckets</h2>
<svg style="left:646px;top:293px" width="307" height="106" viewBox="646 293 307 106"><clipPath id="c646_293"><rect x="647" y="293" width="305" height="106" rx="2.5"/></clipPath><g clip-path="url(#c646_293)"><path d="M647 379.9 L952 379.9 L952 379.9 L952 399 L647 399 Z" fill="#2c3a30"/><path d="M647 379.9 L952 379.9 L952 379.9" fill="none" stroke="#73bf69" stroke-width="2" stroke-linejoin="round"/></g></svg>
<span class="t" style="left:792.16px;top:348px;font-size:24.72px;line-height:27px;color:#73bf69;-webkit-text-stroke:0.8px #73bf69;">2</span>
</section>
<section class="p" id="panel-objects" aria-label="Number of Objects">
<div class="panel" style="left:646px;top:407px;width:307px;height:106px"></div>
<h2 class="t" style="left:655.37px;top:415px;font-size:14.98px;line-height:17px;color:#ccccdc;letter-spacing:0.18px;-webkit-text-stroke:0.8px #ccccdc;">Number of Objects</h2>
<svg style="left:646px;top:407px" width="307" height="106" viewBox="646 407 307 106"><clipPath id="c646_407"><rect x="647" y="407" width="305" height="106" rx="2.5"/></clipPath><g clip-path="url(#c646_407)"><path d="M647 511.2 L707.7 511.2 L717.9 476.5 L952 476.5 L952 476.5 L952 513 L647 513 Z" fill="#2c3a30"/><path d="M647 511.2 L707.7 511.2 L717.9 476.5 L952 476.5 L952 476.5" fill="none" stroke="#73bf69" stroke-width="1" stroke-linejoin="round"/></g></svg>
<span class="t" style="left:764.76px;top:462px;font-size:24.72px;line-height:27px;color:#73bf69;letter-spacing:0.97px;-webkit-text-stroke:0.8px #73bf69;">2.46</span>
<span class="t" style="left:821.15px;top:466px;font-size:20.14px;line-height:22px;color:#73bf69;-webkit-text-stroke:0.8px #73bf69;">K</span>
</section>
<section class="p" id="panel-inrate" aria-label="S3 API Ingress Rate">
<div class="panel" style="left:961px;top:293px;width:727px;height:220px"></div>
<h2 class="t" style="left:970.92px;top:301px;font-size:14.98px;line-height:17px;color:#ccccdc;letter-spacing:-0.13px;-webkit-text-stroke:0.8px #ccccdc;">S3 API Ingress Rate</h2>
<svg style="left:961px;top:293px" width="727" height="220" viewBox="961 293 727 220" ><path d="M1035.2 354.5H1671.5M1035.2 372.5H1671.5M1035.2 391.5H1671.5M1035.2 409.5H1671.5M1035.2 428.5H1671.5M1035.2 446.5H1671.5M1035.2 465.5H1671.5M1035.2 483.5H1671.5M1077.5 342.5V487.5M1183.5 342.5V487.5M1289.5 342.5V487.5M1395.5 342.5V487.5M1501.5 342.5V487.5M1607.5 342.5V487.5" fill="none" stroke="#2e2f35" stroke-width="1"/><path d="M1035.2 472.3 L1077.5 360.4 L1119.9 377.5 L1162.3 483.6 L1204.7 483.6 L1247.1 483.6 L1289.5 483.6 L1331.9 483.6 L1374.3 483.6 L1416.7 483.6 L1459.1 483.6 L1501.5 483.6 L1543.9 483.6 L1586.3 483.6 L1628.7 483.6 L1671.5 483.6 L1671.5 483.6 L1035.2 483.6 Z" fill="#73bf69" fill-opacity="0.25"/><path d="M1035.2 472.3 L1077.5 360.4 L1119.9 377.5 L1162.3 483.6 L1204.7 483.6 L1247.1 483.6 L1289.5 483.6 L1331.9 483.6 L1374.3 483.6 L1416.7 483.6 L1459.1 483.6 L1501.5 483.6 L1543.9 483.6 L1586.3 483.6 L1628.7 483.6 L1671.5 483.6" fill="none" stroke="#73bf69" stroke-width="1.1" stroke-linejoin="round" /><circle cx="1077.5" cy="360.4" r="2.5" fill="#73bf69"/><circle cx="1119.9" cy="377.5" r="2.5" fill="#73bf69"/><circle cx="1162.3" cy="483.6" r="2.5" fill="#73bf69"/><circle cx="1204.7" cy="483.6" r="2.5" fill="#73bf69"/><circle cx="1247.1" cy="483.6" r="2.5" fill="#73bf69"/><circle cx="1289.5" cy="483.6" r="2.5" fill="#73bf69"/><circle cx="1331.9" cy="483.6" r="2.5" fill="#73bf69"/><circle cx="1374.3" cy="483.6" r="2.5" fill="#73bf69"/><circle cx="1416.7" cy="483.6" r="2.5" fill="#73bf69"/><circle cx="1459.1" cy="483.6" r="2.5" fill="#73bf69"/><circle cx="1501.5" cy="483.6" r="2.5" fill="#73bf69"/><circle cx="1543.9" cy="483.6" r="2.5" fill="#73bf69"/><circle cx="1586.3" cy="483.6" r="2.5" fill="#73bf69"/><circle cx="1628.7" cy="483.6" r="2.5" fill="#73bf69"/><circle cx="1671.5" cy="483.6" r="2.5" fill="#73bf69"/><text x="973.73" y="358.1" fill="#ccccdc" stroke="#ccccdc" stroke-width="0.35" style="font-size:12.5px;letter-spacing:0.29px;">224 KiB/s</text><text x="973.74" y="376.1" fill="#ccccdc" stroke="#ccccdc" stroke-width="0.35" style="font-size:12.5px;letter-spacing:0.29px;">192 KiB/s</text><text x="973.74" y="395.1" fill="#ccccdc" stroke="#ccccdc" stroke-width="0.35" style="font-size:12.5px;letter-spacing:0.29px;">160 KiB/s</text><text x="973.74" y="413.1" fill="#ccccdc" stroke="#ccccdc" stroke-width="0.35" style="font-size:12.5px;letter-spacing:0.29px;">128 KiB/s</text><text x="981.03" y="432.1" fill="#ccccdc" stroke="#ccccdc" stroke-width="0.35" style="font-size:12.5px;letter-spacing:0.28px;">96 KiB/s</text><text x="981.03" y="450.1" fill="#ccccdc" stroke="#ccccdc" stroke-width="0.35" style="font-size:12.5px;letter-spacing:0.28px;">64 KiB/s</text><text x="981.02" y="469.1" fill="#ccccdc" stroke="#ccccdc" stroke-width="0.35" style="font-size:12.5px;letter-spacing:0.28px;">32 KiB/s</text><text x="1000.02" y="487.1" fill="#ccccdc" stroke="#ccccdc" stroke-width="0.35" style="font-size:12.5px;letter-spacing:0.27px;">0 B/s</text><text x="1059.94" y="501.8" fill="#ccccdc" stroke="#ccccdc" stroke-width="0.35" style="font-size:12.5px;letter-spacing:0.66px;">08:20</text><text x="1165.94" y="501.8" fill="#ccccdc" stroke="#ccccdc" stroke-width="0.35" style="font-size:12.5px;letter-spacing:0.67px;">08:25</text><text x="1271.94" y="501.8" fill="#ccccdc" stroke="#ccccdc" stroke-width="0.35" style="font-size:12.5px;letter-spacing:0.66px;">08:30</text><text x="1377.94" y="501.8" fill="#ccccdc" stroke="#ccccdc" stroke-width="0.35" style="font-size:12.5px;letter-spacing:0.67px;">08:35</text><text x="1483.94" y="501.8" fill="#ccccdc" stroke="#ccccdc" stroke-width="0.35" style="font-size:12.5px;letter-spacing:0.66px;">08:40</text><text x="1589.94" y="501.8" fill="#ccccdc" stroke="#ccccdc" stroke-width="0.35" style="font-size:12.5px;letter-spacing:0.67px;">08:45</text></svg>
<svg style="left:1121px;top:303px" width="14" height="14" viewBox="0 0 14 14"><g fill="none" stroke="#9c9dab" stroke-width="1.3" stroke-linejoin="round" stroke-linecap="round"><path d="M1.2 3.2 Q1.2 1.8 2.6 1.8 H9 L12.8 5.4 V10.8 Q12.8 12.2 11.4 12.2 H2.6 Q1.2 12.2 1.2 10.8 Z"/><path d="M9 1.9 V5.4 H12.6"/><path d="M3.6 7.2 H6.2 M3.6 9.6 H10.2"/></g></svg>
</section>
<section class="p" id="panel-egrate" aria-label="S3 API Egress Rate">
<div class="panel" style="left:1697px;top:293px;width:832px;height:220px"></div>
<h2 class="t" style="left:1706.92px;top:301px;font-size:14.98px;line-height:17px;color:#ccccdc;letter-spacing:-0.21px;-webkit-text-stroke:0.8px #ccccdc;">S3 API Egress Rate</h2>
<svg style="left:1697px;top:293px" width="832" height="220" viewBox="1697 293 832 220" ><path d="M1772.3 352.5H2512.8M1772.3 368.5H2512.8M1772.3 385.5H2512.8M1772.3 401.5H2512.8M1772.3 417.5H2512.8M1772.3 434.5H2512.8M1772.3 450.5H2512.8M1772.3 467.5H2512.8M1772.3 483.5H2512.8M1821.5 342.5V487.5M1945.5 342.5V487.5M2068.5 342.5V487.5M2192.5 342.5V487.5M2315.5 342.5V487.5M2438.5 342.5V487.5" fill="none" stroke="#2e2f35" stroke-width="1"/><path d="M1772.3 473.6 L1821.3 359.7 L1870.66 375.5 L1920.02 483.6 L1969.38 483.6 L2018.74 483.6 L2068.1 483.6 L2117.46 483.6 L2166.82 483.6 L2216.18 483.6 L2265.54 483.6 L2314.9 483.6 L2364.26 483.6 L2413.62 483.6 L2462.98 483.6 L2512.8 483.6 L2512.8 483.6 L1772.3 483.6 Z" fill="#73bf69" fill-opacity="0.25"/><path d="M1772.3 473.6 L1821.3 359.7 L1870.66 375.5 L1920.02 483.6 L1969.38 483.6 L2018.74 483.6 L2068.1 483.6 L2117.46 483.6 L2166.82 483.6 L2216.18 483.6 L2265.54 483.6 L2314.9 483.6 L2364.26 483.6 L2413.62 483.6 L2462.98 483.6 L2512.8 483.6" fill="none" stroke="#73bf69" stroke-width="1.1" stroke-linejoin="round" /><circle cx="1821.3" cy="359.7" r="2.5" fill="#73bf69"/><circle cx="1870.66" cy="375.5" r="2.5" fill="#73bf69"/><circle cx="1920.02" cy="483.6" r="2.5" fill="#73bf69"/><circle cx="1969.38" cy="483.6" r="2.5" fill="#73bf69"/><circle cx="2018.74" cy="483.6" r="2.5" fill="#73bf69"/><circle cx="2068.1" cy="483.6" r="2.5" fill="#73bf69"/><circle cx="2117.46" cy="483.6" r="2.5" fill="#73bf69"/><circle cx="2166.82" cy="483.6" r="2.5" fill="#73bf69"/><circle cx="2216.18" cy="483.6" r="2.5" fill="#73bf69"/><circle cx="2265.54" cy="483.6" r="2.5" fill="#73bf69"/><circle cx="2314.9" cy="483.6" r="2.5" fill="#73bf69"/><circle cx="2364.26" cy="483.6" r="2.5" fill="#73bf69"/><circle cx="2413.62" cy="483.6" r="2.5" fill="#73bf69"/><circle cx="2462.98" cy="483.6" r="2.5" fill="#73bf69"/><circle cx="2512.8" cy="483.6" r="2.5" fill="#73bf69"/><text x="1725.55" y="356.1" fill="#ccccdc" stroke="#ccccdc" stroke-width="0.35" style="font-size:12.5px;letter-spacing:0.27px;">2 KiB/s</text><text x="1707.3" y="372.1" fill="#ccccdc" stroke="#ccccdc" stroke-width="0.35" style="font-size:12.5px;letter-spacing:0.28px;">1.75 KiB/s</text><text x="1707.3" y="389.1" fill="#ccccdc" stroke="#ccccdc" stroke-width="0.35" style="font-size:12.5px;letter-spacing:0.28px;">1.50 KiB/s</text><text x="1707.3" y="405.1" fill="#ccccdc" stroke="#ccccdc" stroke-width="0.35" style="font-size:12.5px;letter-spacing:0.28px;">1.25 KiB/s</text><text x="1725.57" y="421.1" fill="#ccccdc" stroke="#ccccdc" stroke-width="0.35" style="font-size:12.5px;letter-spacing:0.27px;">1 KiB/s</text><text x="1722.61" y="438.1" fill="#ccccdc" stroke="#ccccdc" stroke-width="0.35" style="font-size:12.5px;letter-spacing:0.3px;">768 B/s</text><text x="1722.61" y="454.1" fill="#ccccdc" stroke="#ccccdc" stroke-width="0.35" style="font-size:12.5px;letter-spacing:0.3px;">512 B/s</text><text x="1722.61" y="471.1" fill="#ccccdc" stroke="#ccccdc" stroke-width="0.35" style="font-size:12.5px;letter-spacing:0.3px;">256 B/s</text><text x="1737.22" y="487.1" fill="#ccccdc" stroke="#ccccdc" stroke-width="0.35" style="font-size:12.5px;letter-spacing:0.27px;">0 B/s</text><text x="1803.74" y="501.8" fill="#ccccdc" stroke="#ccccdc" stroke-width="0.35" style="font-size:12.5px;letter-spacing:0.66px;">08:20</text><text x="1927.14" y="501.8" fill="#ccccdc" stroke="#ccccdc" stroke-width="0.35" style="font-size:12.5px;letter-spacing:0.67px;">08:25</text><text x="2050.54" y="501.8" fill="#ccccdc" stroke="#ccccdc" stroke-width="0.35" style="font-size:12.5px;letter-spacing:0.66px;">08:30</text><text x="2173.94" y="501.8" fill="#ccccdc" stroke="#ccccdc" stroke-width="0.35" style="font-size:12.5px;letter-spacing:0.67px;">08:35</text><text x="2297.34" y="501.8" fill="#ccccdc" stroke="#ccccdc" stroke-width="0.35" style="font-size:12.5px;letter-spacing:0.66px;">08:40</text><text x="2420.74" y="501.8" fill="#ccccdc" stroke="#ccccdc" stroke-width="0.35" style="font-size:12.5px;letter-spacing:0.67px;">08:45</text></svg>
<svg style="left:1853px;top:303px" width="14" height="14" viewBox="0 0 14 14"><g fill="none" stroke="#9c9dab" stroke-width="1.3" stroke-linejoin="round" stroke-linecap="round"><path d="M1.2 3.2 Q1.2 1.8 2.6 1.8 H9 L12.8 5.4 V10.8 Q12.8 12.2 11.4 12.2 H2.6 Q1.2 12.2 1.2 10.8 Z"/><path d="M9 1.9 V5.4 H12.6"/><path d="M3.6 7.2 H6.2 M3.6 9.6 H10.2"/></g></svg>
</section>
<section class="p" id="panel-reqrate" aria-label="S3 API Request Rate">
<div class="panel" style="left:16px;top:521px;width:937px;height:220px"></div>
<h2 class="t" style="left:25.92px;top:529px;font-size:14.98px;line-height:17px;color:#ccccdc;letter-spacing:-0.2px;-webkit-text-stroke:0.8px #ccccdc;">S3 API Request Rate</h2>
<svg style="left:16px;top:521px" width="937" height="220" viewBox="16 521 937 220" ><path d="M65.4 577.5H936.7M65.4 602.5H936.7M65.4 626.5H936.7M65.4 651.5H936.7M123.5 570.5V655.5M268.5 570.5V655.5M413.5 570.5V655.5M558.5 570.5V655.5M704.5 570.5V655.5M849.5 570.5V655.5" fill="none" stroke="#2e2f35" stroke-width="1"/><path d="M65.4 634.4 L123.4 578.4 L181.5 595.5 L238.8 651.5 L936.7 651.5 L936.7 651.5 L65.4 651.5 Z" fill="#37872d" fill-opacity="0.12"/><path d="M65.4 634.4 L123.4 578.4 L181.5 595.5 L238.8 651.5 L936.7 651.5" fill="none" stroke="#37872d" stroke-width="1.1" stroke-linejoin="round" /><path d="M65.4 651.5 L238.8 651.5" fill="none" stroke="#8f83d8" stroke-width="1.1" stroke-linejoin="round" /><text x="30.18" y="580.9" fill="#ccccdc" stroke="#ccccdc" stroke-width="0.35" style="font-size:12.5px;letter-spacing:0.64px;">6000</text><text x="30.15" y="605.9" fill="#ccccdc" stroke="#ccccdc" stroke-width="0.35" style="font-size:12.5px;letter-spacing:0.65px;">4000</text><text x="30.18" y="629.9" fill="#ccccdc" stroke="#ccccdc" stroke-width="0.35" style="font-size:12.5px;letter-spacing:0.64px;">2000</text><text x="52.96" y="654.9" fill="#ccccdc" stroke="#ccccdc" stroke-width="0.35" style="font-size:12.5px;">0</text><text x="105.84" y="670.1" fill="#ccccdc" stroke="#ccccdc" stroke-width="0.35" style="font-size:12.5px;letter-spacing:0.66px;">08:20</text><text x="250.94" y="670.1" fill="#ccccdc" stroke="#ccccdc" stroke-width="0.35" style="font-size:12.5px;letter-spacing:0.67px;">08:25</text><text x="396.04" y="670.1" fill="#ccccdc" stroke="#ccccdc" stroke-width="0.35" style="font-size:12.5px;letter-spacing:0.66px;">08:30</text><text x="541.14" y="670.1" fill="#ccccdc" stroke="#ccccdc" stroke-width="0.35" style="font-size:12.5px;letter-spacing:0.67px;">08:35</text><text x="686.24" y="670.1" fill="#ccccdc" stroke="#ccccdc" stroke-width="0.35" style="font-size:12.5px;letter-spacing:0.66px;">08:40</text><text x="831.34" y="670.1" fill="#ccccdc" stroke="#ccccdc" stroke-width="0.35" style="font-size:12.5px;letter-spacing:0.67px;">08:45</text></svg>
<div class="b" style="left:29px;top:689px;width:14px;height:4px;border-radius:2px;background:#73bf69"></div>
<span class="t" style="left:51.74px;top:682px;font-size:12.84px;line-height:15px;color:#ccccdc;letter-spacing:0.13px;-webkit-text-stroke:0.3px #ccccdc;">{api="getbucketlifecycle", server="127.0.0.1:9000"}</span>
<div class="b" style="left:357px;top:689px;width:14px;height:4px;border-radius:2px;background:#f2cc0c"></div>
<span class="t" style="left:379.74px;top:682px;font-size:12.84px;line-height:15px;color:#ccccdc;letter-spacing:0.13px;-webkit-text-stroke:0.3px #ccccdc;">{api="getbucketlocation", server="127.0.0.1:9000"}</span>
<div class="b" style="left:29px;top:712.3px;width:14px;height:4px;border-radius:2px;background:#8ab8ff"></div>
<span class="t" style="left:51.74px;top:705px;font-size:12.84px;line-height:15px;color:#ccccdc;letter-spacing:0.17px;-webkit-text-stroke:0.3px #ccccdc;">{api="getbucketobjectlockconfig", server="127.0.0.1:9000"}</span>
<div class="b" style="left:406px;top:712.3px;width:14px;height:4px;border-radius:2px;background:#ff780a"></div>
<span class="t" style="left:428.24px;top:705px;font-size:12.84px;line-height:15px;color:#ccccdc;letter-spacing:0.12px;-webkit-text-stroke:0.3px #ccccdc;">{api="headbucket", server="127.0.0.1:9000"}</span>
<div class="b" style="left:25px;top:724px;width:900px;height:7.8px;overflow:hidden"><div class="b" style="left:4px;top:13px;width:14px;height:4px;border-radius:2px;background:#b877d9"></div><span class="t" style="left:26.74px;top:5px;font-size:12.84px;line-height:15px;color:#ccccdc;letter-spacing:0.19px;-webkit-text-stroke:0.3px #ccccdc;">{api="listbuckets", server="127.0.0.1:9000"}</span><div class="b" style="left:307px;top:13px;width:14px;height:4px;border-radius:2px;background:#f2495c"></div><span class="t" style="left:329.94px;top:5px;font-size:12.84px;line-height:15px;color:#ccccdc;letter-spacing:0.16px;-webkit-text-stroke:0.3px #ccccdc;">{api="listobjectsv2", server="127.0.0.1:9000"}</span></div>
<div class="b" style="left:933px;top:673px;width:11px;height:59px;background:#29292c"></div>
<div class="b" style="left:936px;top:676px;width:6px;height:21px;background:#6a6a6d;border-radius:3px"></div>
</section>
<section class="p" id="panel-err4" aria-label="S3 API Request Error Rate (4xx)">
<div class="panel" style="left:961px;top:521px;width:727px;height:220px"></div>
<h2 class="t" style="left:970.92px;top:529px;font-size:14.98px;line-height:17px;color:#ccccdc;letter-spacing:-0.04px;-webkit-text-stroke:0.8px #ccccdc;">S3 API Request Error Rate (4xx)</h2>
<svg style="left:961px;top:521px" width="727" height="220" viewBox="961 521 727 220" ><path d="M987.5 582.5H1671.5M987.5 607.5H1671.5M987.5 631.5H1671.5M987.5 656.5H1671.5M1032.5 570.5V660.5M1146.5 570.5V660.5M1260.5 570.5V660.5M1374.5 570.5V660.5M1488.5 570.5V660.5M1602.5 570.5V660.5" fill="none" stroke="#2e2f35" stroke-width="1"/><path d="M987.5 602.5 L1032.7 578.4 L1078.7 604.8 L1124 656.3 L1671.5 656.3 L1671.5 656.3 L987.5 656.3 Z" fill="#8ab8ff" fill-opacity="0.1"/><path d="M987.5 602.5 L1032.7 578.4 L1078.7 604.8 L1124 656.3 L1671.5 656.3" fill="none" stroke="#8ab8ff" stroke-width="1.1" stroke-linejoin="round" /><path d="M987.5 656.3 L1124 656.3" fill="none" stroke="#f2cc0c" stroke-width="1.2" stroke-linejoin="round" /><text x="974.82" y="585.9" fill="#ccccdc" stroke="#ccccdc" stroke-width="0.35" style="font-size:12.5px;">3</text><text x="974.9" y="610.9" fill="#ccccdc" stroke="#ccccdc" stroke-width="0.35" style="font-size:12.5px;">2</text><text x="974.88" y="634.9" fill="#ccccdc" stroke="#ccccdc" stroke-width="0.35" style="font-size:12.5px;">1</text><text x="974.76" y="659.9" fill="#ccccdc" stroke="#ccccdc" stroke-width="0.35" style="font-size:12.5px;">0</text><text x="1015.14" y="675.1" fill="#ccccdc" stroke="#ccccdc" stroke-width="0.35" style="font-size:12.5px;letter-spacing:0.66px;">08:20</text><text x="1129.04" y="675.1" fill="#ccccdc" stroke="#ccccdc" stroke-width="0.35" style="font-size:12.5px;letter-spacing:0.67px;">08:25</text><text x="1242.94" y="675.1" fill="#ccccdc" stroke="#ccccdc" stroke-width="0.35" style="font-size:12.5px;letter-spacing:0.66px;">08:30</text><text x="1356.84" y="675.1" fill="#ccccdc" stroke="#ccccdc" stroke-width="0.35" style="font-size:12.5px;letter-spacing:0.67px;">08:35</text><text x="1470.74" y="675.1" fill="#ccccdc" stroke="#ccccdc" stroke-width="0.35" style="font-size:12.5px;letter-spacing:0.66px;">08:40</text><text x="1584.64" y="675.1" fill="#ccccdc" stroke="#ccccdc" stroke-width="0.35" style="font-size:12.5px;letter-spacing:0.67px;">08:45</text></svg>
<div class="b" style="left:974px;top:693px;width:14px;height:4px;border-radius:2px;background:#73bf69"></div>
<span class="t" style="left:996.74px;top:687px;font-size:12.84px;line-height:15px;color:#ccccdc;letter-spacing:0.13px;-webkit-text-stroke:0.3px #ccccdc;">{api="getbucketlifecycle", server="127.0.0.1:9000"}</span>
<div class="b" style="left:1302px;top:693px;width:14px;height:4px;border-radius:2px;background:#f2cc0c"></div>
<span class="t" style="left:1324.74px;top:687px;font-size:12.84px;line-height:15px;color:#ccccdc;letter-spacing:0.13px;-webkit-text-stroke:0.3px #ccccdc;">{api="getbucketlocation", server="127.0.0.1:9000"}</span>
<div class="b" style="left:974px;top:716.5px;width:14px;height:4px;border-radius:2px;background:#8ab8ff"></div>
<span class="t" style="left:996.74px;top:710px;font-size:12.84px;line-height:15px;color:#ccccdc;letter-spacing:0.17px;-webkit-text-stroke:0.3px #ccccdc;">{api="getbucketobjectlockconfig", server="127.0.0.1:9000"}</span>
</section>
<section class="p" id="panel-err5" aria-label="S3 API Request Error Rate (5xx)">
<div class="panel" style="left:1697px;top:521px;width:832px;height:220px"></div>
<h2 class="t" style="left:1706.92px;top:529px;font-size:14.98px;line-height:17px;color:#ccccdc;letter-spacing:-0.05px;-webkit-text-stroke:0.8px #ccccdc;">S3 API Request Error Rate (5xx)</h2>
<span class="t" style="left:2078.19px;top:635px;font-size:19.6px;line-height:22px;color:#8e8e9b;letter-spacing:-0.17px;-webkit-text-stroke:0.3px #8e8e9b;">No data</span>
</section>
<section class="p" id="panel-hb" aria-label="Health Breakdown">
<div class="panel" style="left:16px;top:749px;width:1253px;height:296px"></div>
<h2 class="t" style="left:25.37px;top:757px;font-size:14.98px;line-height:17px;color:#ccccdc;letter-spacing:0.13px;-webkit-text-stroke:0.8px #ccccdc;">Health Breakdown</h2>
<span class="t" style="left:24.66px;top:792px;font-size:15.1px;line-height:17px;color:#ccccdc;letter-spacing:0.2px;-webkit-text-stroke:0.4px #ccccdc;">Pool 0 / Set 0 - Online Drives</span>
<span class="t" style="left:1231.85px;top:810px;font-size:26.8px;line-height:30px;color:#8f9092;-webkit-text-stroke:0.3px #8f9092;">1</span>
<span class="t" style="left:24.66px;top:842px;font-size:15.1px;line-height:17px;color:#ccccdc;letter-spacing:0.16px;-webkit-text-stroke:0.4px #ccccdc;">Pool 0 / Set 0 - Read Quorum</span>
<span class="t" style="left:1231.85px;top:859px;font-size:26.8px;line-height:30px;color:#8f9092;-webkit-text-stroke:0.3px #8f9092;">1</span>
<span class="t" style="left:24.66px;top:891px;font-size:15.1px;line-height:17px;color:#ccccdc;letter-spacing:0.24px;-webkit-text-stroke:0.4px #ccccdc;">Pool 0 / Set 0 - Write Quorum</span>
<span class="t" style="left:1231.85px;top:909px;font-size:26.8px;line-height:30px;color:#8f9092;-webkit-text-stroke:0.3px #8f9092;">1</span>
<span class="t" style="left:24.66px;top:941px;font-size:15.1px;line-height:17px;color:#ccccdc;letter-spacing:0.22px;-webkit-text-stroke:0.4px #ccccdc;">Pool 0 / Set 0 - Healing Drives</span>
<span class="t" style="left:1231.19px;top:958px;font-size:26.8px;line-height:30px;color:#8f9092;-webkit-text-stroke:0.3px #8f9092;">0</span>
<span class="t" style="left:24.66px;top:990px;font-size:15.1px;line-height:17px;color:#ccccdc;letter-spacing:0.23px;-webkit-text-stroke:0.4px #ccccdc;">Pool 0 / Set 0 - Status</span>
<span class="t" style="left:1231.85px;top:1008px;font-size:26.8px;line-height:30px;color:#8f9092;-webkit-text-stroke:0.3px #8f9092;">1</span>
<svg style="left:16px;top:749px" width="1253" height="296" viewBox="16 749 1253 296" ><defs><radialGradient id="hbg" cx="0.5" cy="0.5" r="0.7071"><stop offset="0.1" stop-color="#828385"/><stop offset="1" stop-color="#5c5d60"/></radialGradient></defs><rect x="25" y="811" width="10" height="27" rx="1.5" fill="url(#hbg)"/><rect x="37" y="811" width="10" height="27" rx="1.5" fill="url(#hbg)"/><rect x="49" y="811" width="10" height="27" rx="1.5" fill="url(#hbg)"/><rect x="61" y="811" width="10" height="27" rx="1.5" fill="url(#hbg)"/><rect x="73" y="811" width="10" height="27" rx="1.5" fill="url(#hbg)"/><rect x="85" y="811" width="10" height="27" rx="1.5" fill="url(#hbg)"/><rect x="97" y="811" width="10" height="27" rx="1.5" fill="url(#hbg)"/><rect x="109" y="811" width="10" height="27" rx="1.5" fill="url(#hbg)"/><rect x="121" y="811" width="10" height="27" rx="1.5" fill="url(#hbg)"/><rect x="133" y="811" width="10" height="27" rx="1.5" fill="url(#hbg)"/><rect x="145" y="811" width="10" height="27" rx="1.5" fill="url(#hbg)"/><rect x="157" y="811" width="10" height="27" rx="1.5" fill="url(#hbg)"/><rect x="169" y="811" width="10" height="27" rx="1.5" fill="url(#hbg)"/><rect x="181" y="811" width="10" height="27" rx="1.5" fill="url(#hbg)"/><rect x="193" y="811" width="10" height="27" rx="1.5" fill="url(#hbg)"/><rect x="205" y="811" width="10" height="27" rx="1.5" fill="url(#hbg)"/><rect x="217" y="811" width="10" height="27" rx="1.5" fill="url(#hbg)"/><rect x="229" y="811" width="10" height="27" rx="1.5" fill="url(#hbg)"/><rect x="241" y="811" width="10" height="27" rx="1.5" fill="url(#hbg)"/><rect x="253" y="811" width="10" height="27" rx="1.5" fill="url(#hbg)"/><rect x="265" y="811" width="10" height="27" rx="1.5" fill="url(#hbg)"/><rect x="277" y="811" width="10" height="27" rx="1.5" fill="url(#hbg)"/><rect x="289" y="811" width="10" height="27" rx="1.5" fill="url(#hbg)"/><rect x="301" y="811" width="10" height="27" rx="1.5" fill="url(#hbg)"/><rect x="313" y="811" width="10" height="27" rx="1.5" fill="url(#hbg)"/><rect x="325" y="811" width="10" height="27" rx="1.5" fill="url(#hbg)"/><rect x="337" y="811" width="10" height="27" rx="1.5" fill="url(#hbg)"/><rect x="349" y="811" width="10" height="27" rx="1.5" fill="url(#hbg)"/><rect x="361" y="811" width="10" height="27" rx="1.5" fill="url(#hbg)"/><rect x="373" y="811" width="10" height="27" rx="1.5" fill="url(#hbg)"/><rect x="385" y="811" width="10" height="27" rx="1.5" fill="url(#hbg)"/><rect x="397" y="811" width="10" height="27" rx="1.5" fill="url(#hbg)"/><rect x="409" y="811" width="10" height="27" rx="1.5" fill="url(#hbg)"/><rect x="421" y="811" width="10" height="27" rx="1.5" fill="url(#hbg)"/><rect x="433" y="811" width="10" height="27" rx="1.5" fill="url(#hbg)"/><rect x="445" y="811" width="10" height="27" rx="1.5" fill="url(#hbg)"/><rect x="457" y="811" width="10" height="27" rx="1.5" fill="url(#hbg)"/><rect x="469" y="811" width="10" height="27" rx="1.5" fill="url(#hbg)"/><rect x="481" y="811" width="10" height="27" rx="1.5" fill="url(#hbg)"/><rect x="493" y="811" width="10" height="27" rx="1.5" fill="url(#hbg)"/><rect x="505" y="811" width="10" height="27" rx="1.5" fill="url(#hbg)"/><rect x="517" y="811" width="10" height="27" rx="1.5" fill="url(#hbg)"/><rect x="529" y="811" width="10" height="27" rx="1.5" fill="url(#hbg)"/><rect x="541" y="811" width="10" height="27" rx="1.5" fill="url(#hbg)"/><rect x="553" y="811" width="10" height="27" rx="1.5" fill="url(#hbg)"/><rect x="565" y="811" width="10" height="27" rx="1.5" fill="url(#hbg)"/><rect x="577" y="811" width="10" height="27" rx="1.5" fill="url(#hbg)"/><rect x="589" y="811" width="10" height="27" rx="1.5" fill="url(#hbg)"/><rect x="601" y="811" width="10" height="27" rx="1.5" fill="url(#hbg)"/><rect x="613" y="811" width="10" height="27" rx="1.5" fill="url(#hbg)"/><rect x="625" y="811" width="10" height="27" rx="1.5" fill="url(#hbg)"/><rect x="637" y="811" width="10" height="27" rx="1.5" fill="url(#hbg)"/><rect x="649" y="811" width="10" height="27" rx="1.5" fill="url(#hbg)"/><rect x="661" y="811" width="10" height="27" rx="1.5" fill="url(#hbg)"/><rect x="673" y="811" width="10" height="27" rx="1.5" fill="url(#hbg)"/><rect x="685" y="811" width="10" height="27" rx="1.5" fill="url(#hbg)"/><rect x="697" y="811" width="10" height="27" rx="1.5" fill="url(#hbg)"/><rect x="709" y="811" width="10" height="27" rx="1.5" fill="url(#hbg)"/><rect x="721" y="811" width="10" height="27" rx="1.5" fill="url(#hbg)"/><rect x="733" y="811" width="10" height="27" rx="1.5" fill="url(#hbg)"/><rect x="745" y="811" width="10" height="27" rx="1.5" fill="url(#hbg)"/><rect x="757" y="811" width="10" height="27" rx="1.5" fill="url(#hbg)"/><rect x="769" y="811" width="10" height="27" rx="1.5" fill="url(#hbg)"/><rect x="781" y="811" width="10" height="27" rx="1.5" fill="url(#hbg)"/><rect x="793" y="811" width="10" height="27" rx="1.5" fill="url(#hbg)"/><rect x="805" y="811" width="10" height="27" rx="1.5" fill="url(#hbg)"/><rect x="817" y="811" width="10" height="27" rx="1.5" fill="url(#hbg)"/><rect x="829" y="811" width="10" height="27" rx="1.5" fill="url(#hbg)"/><rect x="841" y="811" width="10" height="27" rx="1.5" fill="url(#hbg)"/><rect x="853" y="811" width="10" height="27" rx="1.5" fill="url(#hbg)"/><rect x="865" y="811" width="10" height="27" rx="1.5" fill="url(#hbg)"/><rect x="877" y="811" width="10" height="27" rx="1.5" fill="url(#hbg)"/><rect x="889" y="811" width="10" height="27" rx="1.5" fill="url(#hbg)"/><rect x="901" y="811" width="10" height="27" rx="1.5" fill="url(#hbg)"/><rect x="913" y="811" width="10" height="27" rx="1.5" fill="url(#hbg)"/><rect x="925" y="811" width="10" height="27" rx="1.5" fill="url(#hbg)"/><rect x="937" y="811" width="10" height="27" rx="1.5" fill="url(#hbg)"/><rect x="949" y="811" width="10" height="27" rx="1.5" fill="url(#hbg)"/><rect x="961" y="811" width="10" height="27" rx="1.5" fill="url(#hbg)"/><rect x="973" y="811" width="10" height="27" rx="1.5" fill="url(#hbg)"/><rect x="985" y="811" width="10" height="27" rx="1.5" fill="url(#hbg)"/><rect x="997" y="811" width="10" height="27" rx="1.5" fill="url(#hbg)"/><rect x="1009" y="811" width="10" height="27" rx="1.5" fill="url(#hbg)"/><rect x="1021" y="811" width="10" height="27" rx="1.5" fill="url(#hbg)"/><rect x="1033" y="811" width="10" height="27" rx="1.5" fill="url(#hbg)"/><rect x="1045" y="811" width="10" height="27" rx="1.5" fill="url(#hbg)"/><rect x="1057" y="811" width="10" height="27" rx="1.5" fill="url(#hbg)"/><rect x="1069" y="811" width="10" height="27" rx="1.5" fill="url(#hbg)"/><rect x="1081" y="811" width="10" height="27" rx="1.5" fill="url(#hbg)"/><rect x="1093" y="811" width="10" height="27" rx="1.5" fill="url(#hbg)"/><rect x="25" y="861" width="10" height="27" rx="1.5" fill="url(#hbg)"/><rect x="37" y="861" width="10" height="27" rx="1.5" fill="url(#hbg)"/><rect x="49" y="861" width="10" height="27" rx="1.5" fill="url(#hbg)"/><rect x="61" y="861" width="10" height="27" rx="1.5" fill="url(#hbg)"/><rect x="73" y="861" width="10" height="27" rx="1.5" fill="url(#hbg)"/><rect x="85" y="861" width="10" height="27" rx="1.5" fill="url(#hbg)"/><rect x="97" y="861" width="10" height="27" rx="1.5" fill="url(#hbg)"/><rect x="109" y="861" width="10" height="27" rx="1.5" fill="url(#hbg)"/><rect x="121" y="861" width="10" height="27" rx="1.5" fill="url(#hbg)"/><rect x="133" y="861" width="10" height="27" rx="1.5" fill="url(#hbg)"/><rect x="145" y="861" width="10" height="27" rx="1.5" fill="url(#hbg)"/><rect x="157" y="861" width="10" height="27" rx="1.5" fill="url(#hbg)"/><rect x="169" y="861" width="10" height="27" rx="1.5" fill="url(#hbg)"/><rect x="181" y="861" width="10" height="27" rx="1.5" fill="url(#hbg)"/><rect x="193" y="861" width="10" height="27" rx="1.5" fill="url(#hbg)"/><rect x="205" y="861" width="10" height="27" rx="1.5" fill="url(#hbg)"/><rect x="217" y="861" width="10" height="27" rx="1.5" fill="url(#hbg)"/><rect x="229" y="861" width="10" height="27" rx="1.5" fill="url(#hbg)"/><rect x="241" y="861" width="10" height="27" rx="1.5" fill="url(#hbg)"/><rect x="253" y="861" width="10" height="27" rx="1.5" fill="url(#hbg)"/><rect x="265" y="861" width="10" height="27" rx="1.5" fill="url(#hbg)"/><rect x="277" y="861" width="10" height="27" rx="1.5" fill="url(#hbg)"/><rect x="289" y="861" width="10" height="27" rx="1.5" fill="url(#hbg)"/><rect x="301" y="861" width="10" height="27" rx="1.5" fill="url(#hbg)"/><rect x="313" y="861" width="10" height="27" rx="1.5" fill="url(#hbg)"/><rect x="325" y="861" width="10" height="27" rx="1.5" fill="url(#hbg)"/><rect x="337" y="861" width="10" height="27" rx="1.5" fill="url(#hbg)"/><rect x="349" y="861" width="10" height="27" rx="1.5" fill="url(#hbg)"/><rect x="361" y="861" width="10" height="27" rx="1.5" fill="url(#hbg)"/><rect x="373" y="861" width="10" height="27" rx="1.5" fill="url(#hbg)"/><rect x="385" y="861" width="10" height="27" rx="1.5" fill="url(#hbg)"/><rect x="397" y="861" width="10" height="27" rx="1.5" fill="url(#hbg)"/><rect x="409" y="861" width="10" height="27" rx="1.5" fill="url(#hbg)"/><rect x="421" y="861" width="10" height="27" rx="1.5" fill="url(#hbg)"/><rect x="433" y="861" width="10" height="27" rx="1.5" fill="url(#hbg)"/><rect x="445" y="861" width="10" height="27" rx="1.5" fill="url(#hbg)"/><rect x="457" y="861" width="10" height="27" rx="1.5" fill="url(#hbg)"/><rect x="469" y="861" width="10" height="27" rx="1.5" fill="url(#hbg)"/><rect x="481" y="861" width="10" height="27" rx="1.5" fill="url(#hbg)"/><rect x="493" y="861" width="10" height="27" rx="1.5" fill="url(#hbg)"/><rect x="505" y="861" width="10" height="27" rx="1.5" fill="url(#hbg)"/><rect x="517" y="861" width="10" height="27" rx="1.5" fill="url(#hbg)"/><rect x="529" y="861" width="10" height="27" rx="1.5" fill="url(#hbg)"/><rect x="541" y="861" width="10" height="27" rx="1.5" fill="url(#hbg)"/><rect x="553" y="861" width="10" height="27" rx="1.5" fill="url(#hbg)"/><rect x="565" y="861" width="10" height="27" rx="1.5" fill="url(#hbg)"/><rect x="577" y="861" width="10" height="27" rx="1.5" fill="url(#hbg)"/><rect x="589" y="861" width="10" height="27" rx="1.5" fill="url(#hbg)"/><rect x="601" y="861" width="10" height="27" rx="1.5" fill="url(#hbg)"/><rect x="613" y="861" width="10" height="27" rx="1.5" fill="url(#hbg)"/><rect x="625" y="861" width="10" height="27" rx="1.5" fill="url(#hbg)"/><rect x="637" y="861" width="10" height="27" rx="1.5" fill="url(#hbg)"/><rect x="649" y="861" width="10" height="27" rx="1.5" fill="url(#hbg)"/><rect x="661" y="861" width="10" height="27" rx="1.5" fill="url(#hbg)"/><rect x="673" y="861" width="10" height="27" rx="1.5" fill="url(#hbg)"/><rect x="685" y="861" width="10" height="27" rx="1.5" fill="url(#hbg)"/><rect x="697" y="861" width="10" height="27" rx="1.5" fill="url(#hbg)"/><rect x="709" y="861" width="10" height="27" rx="1.5" fill="url(#hbg)"/><rect x="721" y="861" width="10" height="27" rx="1.5" fill="url(#hbg)"/><rect x="733" y="861" width="10" height="27" rx="1.5" fill="url(#hbg)"/><rect x="745" y="861" width="10" height="27" rx="1.5" fill="url(#hbg)"/><rect x="757" y="861" width="10" height="27" rx="1.5" fill="url(#hbg)"/><rect x="769" y="861" width="10" height="27" rx="1.5" fill="url(#hbg)"/><rect x="781" y="861" width="10" height="27" rx="1.5" fill="url(#hbg)"/><rect x="793" y="861" width="10" height="27" rx="1.5" fill="url(#hbg)"/><rect x="805" y="861" width="10" height="27" rx="1.5" fill="url(#hbg)"/><rect x="817" y="861" width="10" height="27" rx="1.5" fill="url(#hbg)"/><rect x="829" y="861" width="10" height="27" rx="1.5" fill="url(#hbg)"/><rect x="841" y="861" width="10" height="27" rx="1.5" fill="url(#hbg)"/><rect x="853" y="861" width="10" height="27" rx="1.5" fill="url(#hbg)"/><rect x="865" y="861" width="10" height="27" rx="1.5" fill="url(#hbg)"/><rect x="877" y="861" width="10" height="27" rx="1.5" fill="url(#hbg)"/><rect x="889" y="861" width="10" height="27" rx="1.5" fill="url(#hbg)"/><rect x="901" y="861" width="10" height="27" rx="1.5" fill="url(#hbg)"/><rect x="913" y="861" width="10" height="27" rx="1.5" fill="url(#hbg)"/><rect x="925" y="861" width="10" height="27" rx="1.5" fill="url(#hbg)"/><rect x="937" y="861" width="10" height="27" rx="1.5" fill="url(#hbg)"/><rect x="949" y="861" width="10" height="27" rx="1.5" fill="url(#hbg)"/><rect x="961" y="861" width="10" height="27" rx="1.5" fill="url(#hbg)"/><rect x="973" y="861" width="10" height="27" rx="1.5" fill="url(#hbg)"/><rect x="985" y="861" width="10" height="27" rx="1.5" fill="url(#hbg)"/><rect x="997" y="861" width="10" height="27" rx="1.5" fill="url(#hbg)"/><rect x="1009" y="861" width="10" height="27" rx="1.5" fill="url(#hbg)"/><rect x="1021" y="861" width="10" height="27" rx="1.5" fill="url(#hbg)"/><rect x="1033" y="861" width="10" height="27" rx="1.5" fill="url(#hbg)"/><rect x="1045" y="861" width="10" height="27" rx="1.5" fill="url(#hbg)"/><rect x="1057" y="861" width="10" height="27" rx="1.5" fill="url(#hbg)"/><rect x="1069" y="861" width="10" height="27" rx="1.5" fill="url(#hbg)"/><rect x="1081" y="861" width="10" height="27" rx="1.5" fill="url(#hbg)"/><rect x="1093" y="861" width="10" height="27" rx="1.5" fill="url(#hbg)"/><rect x="25" y="911" width="10" height="27" rx="1.5" fill="url(#hbg)"/><rect x="37" y="911" width="10" height="27" rx="1.5" fill="url(#hbg)"/><rect x="49" y="911" width="10" height="27" rx="1.5" fill="url(#hbg)"/><rect x="61" y="911" width="10" height="27" rx="1.5" fill="url(#hbg)"/><rect x="73" y="911" width="10" height="27" rx="1.5" fill="url(#hbg)"/><rect x="85" y="911" width="10" height="27" rx="1.5" fill="url(#hbg)"/><rect x="97" y="911" width="10" height="27" rx="1.5" fill="url(#hbg)"/><rect x="109" y="911" width="10" height="27" rx="1.5" fill="url(#hbg)"/><rect x="121" y="911" width="10" height="27" rx="1.5" fill="url(#hbg)"/><rect x="133" y="911" width="10" height="27" rx="1.5" fill="url(#hbg)"/><rect x="145" y="911" width="10" height="27" rx="1.5" fill="url(#hbg)"/><rect x="157" y="911" width="10" height="27" rx="1.5" fill="url(#hbg)"/><rect x="169" y="911" width="10" height="27" rx="1.5" fill="url(#hbg)"/><rect x="181" y="911" width="10" height="27" rx="1.5" fill="url(#hbg)"/><rect x="193" y="911" width="10" height="27" rx="1.5" fill="url(#hbg)"/><rect x="205" y="911" width="10" height="27" rx="1.5" fill="url(#hbg)"/><rect x="217" y="911" width="10" height="27" rx="1.5" fill="url(#hbg)"/><rect x="229" y="911" width="10" height="27" rx="1.5" fill="url(#hbg)"/><rect x="241" y="911" width="10" height="27" rx="1.5" fill="url(#hbg)"/><rect x="253" y="911" width="10" height="27" rx="1.5" fill="url(#hbg)"/><rect x="265" y="911" width="10" height="27" rx="1.5" fill="url(#hbg)"/><rect x="277" y="911" width="10" height="27" rx="1.5" fill="url(#hbg)"/><rect x="289" y="911" width="10" height="27" rx="1.5" fill="url(#hbg)"/><rect x="301" y="911" width="10" height="27" rx="1.5" fill="url(#hbg)"/><rect x="313" y="911" width="10" height="27" rx="1.5" fill="url(#hbg)"/><rect x="325" y="911" width="10" height="27" rx="1.5" fill="url(#hbg)"/><rect x="337" y="911" width="10" height="27" rx="1.5" fill="url(#hbg)"/><rect x="349" y="911" width="10" height="27" rx="1.5" fill="url(#hbg)"/><rect x="361" y="911" width="10" height="27" rx="1.5" fill="url(#hbg)"/><rect x="373" y="911" width="10" height="27" rx="1.5" fill="url(#hbg)"/><rect x="385" y="911" width="10" height="27" rx="1.5" fill="url(#hbg)"/><rect x="397" y="911" width="10" height="27" rx="1.5" fill="url(#hbg)"/><rect x="409" y="911" width="10" height="27" rx="1.5" fill="url(#hbg)"/><rect x="421" y="911" width="10" height="27" rx="1.5" fill="url(#hbg)"/><rect x="433" y="911" width="10" height="27" rx="1.5" fill="url(#hbg)"/><rect x="445" y="911" width="10" height="27" rx="1.5" fill="url(#hbg)"/><rect x="457" y="911" width="10" height="27" rx="1.5" fill="url(#hbg)"/><rect x="469" y="911" width="10" height="27" rx="1.5" fill="url(#hbg)"/><rect x="481" y="911" width="10" height="27" rx="1.5" fill="url(#hbg)"/><rect x="493" y="911" width="10" height="27" rx="1.5" fill="url(#hbg)"/><rect x="505" y="911" width="10" height="27" rx="1.5" fill="url(#hbg)"/><rect x="517" y="911" width="10" height="27" rx="1.5" fill="url(#hbg)"/><rect x="529" y="911" width="10" height="27" rx="1.5" fill="url(#hbg)"/><rect x="541" y="911" width="10" height="27" rx="1.5" fill="url(#hbg)"/><rect x="553" y="911" width="10" height="27" rx="1.5" fill="url(#hbg)"/><rect x="565" y="911" width="10" height="27" rx="1.5" fill="url(#hbg)"/><rect x="577" y="911" width="10" height="27" rx="1.5" fill="url(#hbg)"/><rect x="589" y="911" width="10" height="27" rx="1.5" fill="url(#hbg)"/><rect x="601" y="911" width="10" height="27" rx="1.5" fill="url(#hbg)"/><rect x="613" y="911" width="10" height="27" rx="1.5" fill="url(#hbg)"/><rect x="625" y="911" width="10" height="27" rx="1.5" fill="url(#hbg)"/><rect x="637" y="911" width="10" height="27" rx="1.5" fill="url(#hbg)"/><rect x="649" y="911" width="10" height="27" rx="1.5" fill="url(#hbg)"/><rect x="661" y="911" width="10" height="27" rx="1.5" fill="url(#hbg)"/><rect x="673" y="911" width="10" height="27" rx="1.5" fill="url(#hbg)"/><rect x="685" y="911" width="10" height="27" rx="1.5" fill="url(#hbg)"/><rect x="697" y="911" width="10" height="27" rx="1.5" fill="url(#hbg)"/><rect x="709" y="911" width="10" height="27" rx="1.5" fill="url(#hbg)"/><rect x="721" y="911" width="10" height="27" rx="1.5" fill="url(#hbg)"/><rect x="733" y="911" width="10" height="27" rx="1.5" fill="url(#hbg)"/><rect x="745" y="911" width="10" height="27" rx="1.5" fill="url(#hbg)"/><rect x="757" y="911" width="10" height="27" rx="1.5" fill="url(#hbg)"/><rect x="769" y="911" width="10" height="27" rx="1.5" fill="url(#hbg)"/><rect x="781" y="911" width="10" height="27" rx="1.5" fill="url(#hbg)"/><rect x="793" y="911" width="10" height="27" rx="1.5" fill="url(#hbg)"/><rect x="805" y="911" width="10" height="27" rx="1.5" fill="url(#hbg)"/><rect x="817" y="911" width="10" height="27" rx="1.5" fill="url(#hbg)"/><rect x="829" y="911" width="10" height="27" rx="1.5" fill="url(#hbg)"/><rect x="841" y="911" width="10" height="27" rx="1.5" fill="url(#hbg)"/><rect x="853" y="911" width="10" height="27" rx="1.5" fill="url(#hbg)"/><rect x="865" y="911" width="10" height="27" rx="1.5" fill="url(#hbg)"/><rect x="877" y="911" width="10" height="27" rx="1.5" fill="url(#hbg)"/><rect x="889" y="911" width="10" height="27" rx="1.5" fill="url(#hbg)"/><rect x="901" y="911" width="10" height="27" rx="1.5" fill="url(#hbg)"/><rect x="913" y="911" width="10" height="27" rx="1.5" fill="url(#hbg)"/><rect x="925" y="911" width="10" height="27" rx="1.5" fill="url(#hbg)"/><rect x="937" y="911" width="10" height="27" rx="1.5" fill="url(#hbg)"/><rect x="949" y="911" width="10" height="27" rx="1.5" fill="url(#hbg)"/><rect x="961" y="911" width="10" height="27" rx="1.5" fill="url(#hbg)"/><rect x="973" y="911" width="10" height="27" rx="1.5" fill="url(#hbg)"/><rect x="985" y="911" width="10" height="27" rx="1.5" fill="url(#hbg)"/><rect x="997" y="911" width="10" height="27" rx="1.5" fill="url(#hbg)"/><rect x="1009" y="911" width="10" height="27" rx="1.5" fill="url(#hbg)"/><rect x="1021" y="911" width="10" height="27" rx="1.5" fill="url(#hbg)"/><rect x="1033" y="911" width="10" height="27" rx="1.5" fill="url(#hbg)"/><rect x="1045" y="911" width="10" height="27" rx="1.5" fill="url(#hbg)"/><rect x="1057" y="911" width="10" height="27" rx="1.5" fill="url(#hbg)"/><rect x="1069" y="911" width="10" height="27" rx="1.5" fill="url(#hbg)"/><rect x="1081" y="911" width="10" height="27" rx="1.5" fill="url(#hbg)"/><rect x="1093" y="911" width="10" height="27" rx="1.5" fill="url(#hbg)"/><rect x="25" y="960" width="10" height="27" rx="1.5" fill="url(#hbg)"/><rect x="37" y="960" width="10" height="27" rx="1.5" fill="#2c2d32"/><rect x="49" y="960" width="10" height="27" rx="1.5" fill="#2c2d32"/><rect x="61" y="960" width="10" height="27" rx="1.5" fill="#2c2d32"/><rect x="73" y="960" width="10" height="27" rx="1.5" fill="#2c2d32"/><rect x="85" y="960" width="10" height="27" rx="1.5" fill="#2c2d32"/><rect x="97" y="960" width="10" height="27" rx="1.5" fill="#2c2d32"/><rect x="109" y="960" width="10" height="27" rx="1.5" fill="#2c2d32"/><rect x="121" y="960" width="10" height="27" rx="1.5" fill="#2c2d32"/><rect x="133" y="960" width="10" height="27" rx="1.5" fill="#2c2d32"/><rect x="145" y="960" width="10" height="27" rx="1.5" fill="#2c2d32"/><rect x="157" y="960" width="10" height="27" rx="1.5" fill="#2c2d32"/><rect x="169" y="960" width="10" height="27" rx="1.5" fill="#2c2d32"/><rect x="181" y="960" width="10" height="27" rx="1.5" fill="#2c2d32"/><rect x="193" y="960" width="10" height="27" rx="1.5" fill="#2c2d32"/><rect x="205" y="960" width="10" height="27" rx="1.5" fill="#2c2d32"/><rect x="217" y="960" width="10" height="27" rx="1.5" fill="#2c2d32"/><rect x="229" y="960" width="10" height="27" rx="1.5" fill="#2c2d32"/><rect x="241" y="960" width="10" height="27" rx="1.5" fill="#2c2d32"/><rect x="253" y="960" width="10" height="27" rx="1.5" fill="#2c2d32"/><rect x="265" y="960" width="10" height="27" rx="1.5" fill="#2c2d32"/><rect x="277" y="960" width="10" height="27" rx="1.5" fill="#2c2d32"/><rect x="289" y="960" width="10" height="27" rx="1.5" fill="#2c2d32"/><rect x="301" y="960" width="10" height="27" rx="1.5" fill="#2c2d32"/><rect x="313" y="960" width="10" height="27" rx="1.5" fill="#2c2d32"/><rect x="325" y="960" width="10" height="27" rx="1.5" fill="#2c2d32"/><rect x="337" y="960" width="10" height="27" rx="1.5" fill="#2c2d32"/><rect x="349" y="960" width="10" height="27" rx="1.5" fill="#2c2d32"/><rect x="361" y="960" width="10" height="27" rx="1.5" fill="#2c2d32"/><rect x="373" y="960" width="10" height="27" rx="1.5" fill="#2c2d32"/><rect x="385" y="960" width="10" height="27" rx="1.5" fill="#2c2d32"/><rect x="397" y="960" width="10" height="27" rx="1.5" fill="#2c2d32"/><rect x="409" y="960" width="10" height="27" rx="1.5" fill="#2c2d32"/><rect x="421" y="960" width="10" height="27" rx="1.5" fill="#2c2d32"/><rect x="433" y="960" width="10" height="27" rx="1.5" fill="#2c2d32"/><rect x="445" y="960" width="10" height="27" rx="1.5" fill="#2c2d32"/><rect x="457" y="960" width="10" height="27" rx="1.5" fill="#2c2d32"/><rect x="469" y="960" width="10" height="27" rx="1.5" fill="#2c2d32"/><rect x="481" y="960" width="10" height="27" rx="1.5" fill="#2c2d32"/><rect x="493" y="960" width="10" height="27" rx="1.5" fill="#2c2d32"/><rect x="505" y="960" width="10" height="27" rx="1.5" fill="#2c2d32"/><rect x="517" y="960" width="10" height="27" rx="1.5" fill="#2c2d32"/><rect x="529" y="960" width="10" height="27" rx="1.5" fill="#2c2d32"/><rect x="541" y="960" width="10" height="27" rx="1.5" fill="#2c2d32"/><rect x="553" y="960" width="10" height="27" rx="1.5" fill="#2c2d32"/><rect x="565" y="960" width="10" height="27" rx="1.5" fill="#2c2d32"/><rect x="577" y="960" width="10" height="27" rx="1.5" fill="#2c2d32"/><rect x="589" y="960" width="10" height="27" rx="1.5" fill="#2c2d32"/><rect x="601" y="960" width="10" height="27" rx="1.5" fill="#2c2d32"/><rect x="613" y="960" width="10" height="27" rx="1.5" fill="#2c2d32"/><rect x="625" y="960" width="10" height="27" rx="1.5" fill="#2c2d32"/><rect x="637" y="960" width="10" height="27" rx="1.5" fill="#2c2d32"/><rect x="649" y="960" width="10" height="27" rx="1.5" fill="#2c2d32"/><rect x="661" y="960" width="10" height="27" rx="1.5" fill="#2c2d32"/><rect x="673" y="960" width="10" height="27" rx="1.5" fill="#2c2d32"/><rect x="685" y="960" width="10" height="27" rx="1.5" fill="#2c2d32"/><rect x="697" y="960" width="10" height="27" rx="1.5" fill="#2c2d32"/><rect x="709" y="960" width="10" height="27" rx="1.5" fill="#2c2d32"/><rect x="721" y="960" width="10" height="27" rx="1.5" fill="#2c2d32"/><rect x="733" y="960" width="10" height="27" rx="1.5" fill="#2c2d32"/><rect x="745" y="960" width="10" height="27" rx="1.5" fill="#2c2d32"/><rect x="757" y="960" width="10" height="27" rx="1.5" fill="#2c2d32"/><rect x="769" y="960" width="10" height="27" rx="1.5" fill="#2c2d32"/><rect x="781" y="960" width="10" height="27" rx="1.5" fill="#2c2d32"/><rect x="793" y="960" width="10" height="27" rx="1.5" fill="#2c2d32"/><rect x="805" y="960" width="10" height="27" rx="1.5" fill="#2c2d32"/><rect x="817" y="960" width="10" height="27" rx="1.5" fill="#2c2d32"/><rect x="829" y="960" width="10" height="27" rx="1.5" fill="#2c2d32"/><rect x="841" y="960" width="10" height="27" rx="1.5" fill="#2c2d32"/><rect x="853" y="960" width="10" height="27" rx="1.5" fill="#2c2d32"/><rect x="865" y="960" width="10" height="27" rx="1.5" fill="#2c2d32"/><rect x="877" y="960" width="10" height="27" rx="1.5" fill="#2c2d32"/><rect x="889" y="960" width="10" height="27" rx="1.5" fill="#2c2d32"/><rect x="901" y="960" width="10" height="27" rx="1.5" fill="#2c2d32"/><rect x="913" y="960" width="10" height="27" rx="1.5" fill="#2c2d32"/><rect x="925" y="960" width="10" height="27" rx="1.5" fill="#2c2d32"/><rect x="937" y="960" width="10" height="27" rx="1.5" fill="#2c2d32"/><rect x="949" y="960" width="10" height="27" rx="1.5" fill="#2c2d32"/><rect x="961" y="960" width="10" height="27" rx="1.5" fill="#2c2d32"/><rect x="973" y="960" width="10" height="27" rx="1.5" fill="#2c2d32"/><rect x="985" y="960" width="10" height="27" rx="1.5" fill="#2c2d32"/><rect x="997" y="960" width="10" height="27" rx="1.5" fill="#2c2d32"/><rect x="1009" y="960" width="10" height="27" rx="1.5" fill="#2c2d32"/><rect x="1021" y="960" width="10" height="27" rx="1.5" fill="#2c2d32"/><rect x="1033" y="960" width="10" height="27" rx="1.5" fill="#2c2d32"/><rect x="1045" y="960" width="10" height="27" rx="1.5" fill="#2c2d32"/><rect x="1057" y="960" width="10" height="27" rx="1.5" fill="#2c2d32"/><rect x="1069" y="960" width="10" height="27" rx="1.5" fill="#2c2d32"/><rect x="1081" y="960" width="10" height="27" rx="1.5" fill="#2c2d32"/><rect x="1093" y="960" width="10" height="27" rx="1.5" fill="#2c2d32"/><rect x="25" y="1010" width="10" height="27" rx="1.5" fill="url(#hbg)"/><rect x="37" y="1010" width="10" height="27" rx="1.5" fill="url(#hbg)"/><rect x="49" y="1010" width="10" height="27" rx="1.5" fill="url(#hbg)"/><rect x="61" y="1010" width="10" height="27" rx="1.5" fill="url(#hbg)"/><rect x="73" y="1010" width="10" height="27" rx="1.5" fill="url(#hbg)"/><rect x="85" y="1010" width="10" height="27" rx="1.5" fill="url(#hbg)"/><rect x="97" y="1010" width="10" height="27" rx="1.5" fill="url(#hbg)"/><rect x="109" y="1010" width="10" height="27" rx="1.5" fill="url(#hbg)"/><rect x="121" y="1010" width="10" height="27" rx="1.5" fill="url(#hbg)"/><rect x="133" y="1010" width="10" height="27" rx="1.5" fill="url(#hbg)"/><rect x="145" y="1010" width="10" height="27" rx="1.5" fill="url(#hbg)"/><rect x="157" y="1010" width="10" height="27" rx="1.5" fill="url(#hbg)"/><rect x="169" y="1010" width="10" height="27" rx="1.5" fill="url(#hbg)"/><rect x="181" y="1010" width="10" height="27" rx="1.5" fill="url(#hbg)"/><rect x="193" y="1010" width="10" height="27" rx="1.5" fill="url(#hbg)"/><rect x="205" y="1010" width="10" height="27" rx="1.5" fill="url(#hbg)"/><rect x="217" y="1010" width="10" height="27" rx="1.5" fill="url(#hbg)"/><rect x="229" y="1010" width="10" height="27" rx="1.5" fill="url(#hbg)"/><rect x="241" y="1010" width="10" height="27" rx="1.5" fill="url(#hbg)"/><rect x="253" y="1010" width="10" height="27" rx="1.5" fill="url(#hbg)"/><rect x="265" y="1010" width="10" height="27" rx="1.5" fill="url(#hbg)"/><rect x="277" y="1010" width="10" height="27" rx="1.5" fill="url(#hbg)"/><rect x="289" y="1010" width="10" height="27" rx="1.5" fill="url(#hbg)"/><rect x="301" y="1010" width="10" height="27" rx="1.5" fill="url(#hbg)"/><rect x="313" y="1010" width="10" height="27" rx="1.5" fill="url(#hbg)"/><rect x="325" y="1010" width="10" height="27" rx="1.5" fill="url(#hbg)"/><rect x="337" y="1010" width="10" height="27" rx="1.5" fill="url(#hbg)"/><rect x="349" y="1010" width="10" height="27" rx="1.5" fill="url(#hbg)"/><rect x="361" y="1010" width="10" height="27" rx="1.5" fill="url(#hbg)"/><rect x="373" y="1010" width="10" height="27" rx="1.5" fill="url(#hbg)"/><rect x="385" y="1010" width="10" height="27" rx="1.5" fill="url(#hbg)"/><rect x="397" y="1010" width="10" height="27" rx="1.5" fill="url(#hbg)"/><rect x="409" y="1010" width="10" height="27" rx="1.5" fill="url(#hbg)"/><rect x="421" y="1010" width="10" height="27" rx="1.5" fill="url(#hbg)"/><rect x="433" y="1010" width="10" height="27" rx="1.5" fill="url(#hbg)"/><rect x="445" y="1010" width="10" height="27" rx="1.5" fill="url(#hbg)"/><rect x="457" y="1010" width="10" height="27" rx="1.5" fill="url(#hbg)"/><rect x="469" y="1010" width="10" height="27" rx="1.5" fill="url(#hbg)"/><rect x="481" y="1010" width="10" height="27" rx="1.5" fill="url(#hbg)"/><rect x="493" y="1010" width="10" height="27" rx="1.5" fill="url(#hbg)"/><rect x="505" y="1010" width="10" height="27" rx="1.5" fill="url(#hbg)"/><rect x="517" y="1010" width="10" height="27" rx="1.5" fill="url(#hbg)"/><rect x="529" y="1010" width="10" height="27" rx="1.5" fill="url(#hbg)"/><rect x="541" y="1010" width="10" height="27" rx="1.5" fill="url(#hbg)"/><rect x="553" y="1010" width="10" height="27" rx="1.5" fill="url(#hbg)"/><rect x="565" y="1010" width="10" height="27" rx="1.5" fill="url(#hbg)"/><rect x="577" y="1010" width="10" height="27" rx="1.5" fill="url(#hbg)"/><rect x="589" y="1010" width="10" height="27" rx="1.5" fill="url(#hbg)"/><rect x="601" y="1010" width="10" height="27" rx="1.5" fill="url(#hbg)"/><rect x="613" y="1010" width="10" height="27" rx="1.5" fill="url(#hbg)"/><rect x="625" y="1010" width="10" height="27" rx="1.5" fill="url(#hbg)"/><rect x="637" y="1010" width="10" height="27" rx="1.5" fill="url(#hbg)"/><rect x="649" y="1010" width="10" height="27" rx="1.5" fill="url(#hbg)"/><rect x="661" y="1010" width="10" height="27" rx="1.5" fill="url(#hbg)"/><rect x="673" y="1010" width="10" height="27" rx="1.5" fill="url(#hbg)"/><rect x="685" y="1010" width="10" height="27" rx="1.5" fill="url(#hbg)"/><rect x="697" y="1010" width="10" height="27" rx="1.5" fill="url(#hbg)"/><rect x="709" y="1010" width="10" height="27" rx="1.5" fill="url(#hbg)"/><rect x="721" y="1010" width="10" height="27" rx="1.5" fill="url(#hbg)"/><rect x="733" y="1010" width="10" height="27" rx="1.5" fill="url(#hbg)"/><rect x="745" y="1010" width="10" height="27" rx="1.5" fill="url(#hbg)"/><rect x="757" y="1010" width="10" height="27" rx="1.5" fill="url(#hbg)"/><rect x="769" y="1010" width="10" height="27" rx="1.5" fill="url(#hbg)"/><rect x="781" y="1010" width="10" height="27" rx="1.5" fill="url(#hbg)"/><rect x="793" y="1010" width="10" height="27" rx="1.5" fill="url(#hbg)"/><rect x="805" y="1010" width="10" height="27" rx="1.5" fill="url(#hbg)"/><rect x="817" y="1010" width="10" height="27" rx="1.5" fill="url(#hbg)"/><rect x="829" y="1010" width="10" height="27" rx="1.5" fill="url(#hbg)"/><rect x="841" y="1010" width="10" height="27" rx="1.5" fill="url(#hbg)"/><rect x="853" y="1010" width="10" height="27" rx="1.5" fill="url(#hbg)"/><rect x="865" y="1010" width="10" height="27" rx="1.5" fill="url(#hbg)"/><rect x="877" y="1010" width="10" height="27" rx="1.5" fill="url(#hbg)"/><rect x="889" y="1010" width="10" height="27" rx="1.5" fill="url(#hbg)"/><rect x="901" y="1010" width="10" height="27" rx="1.5" fill="url(#hbg)"/><rect x="913" y="1010" width="10" height="27" rx="1.5" fill="url(#hbg)"/><rect x="925" y="1010" width="10" height="27" rx="1.5" fill="url(#hbg)"/><rect x="937" y="1010" width="10" height="27" rx="1.5" fill="url(#hbg)"/><rect x="949" y="1010" width="10" height="27" rx="1.5" fill="url(#hbg)"/><rect x="961" y="1010" width="10" height="27" rx="1.5" fill="url(#hbg)"/><rect x="973" y="1010" width="10" height="27" rx="1.5" fill="url(#hbg)"/><rect x="985" y="1010" width="10" height="27" rx="1.5" fill="url(#hbg)"/><rect x="997" y="1010" width="10" height="27" rx="1.5" fill="url(#hbg)"/><rect x="1009" y="1010" width="10" height="27" rx="1.5" fill="url(#hbg)"/><rect x="1021" y="1010" width="10" height="27" rx="1.5" fill="url(#hbg)"/><rect x="1033" y="1010" width="10" height="27" rx="1.5" fill="url(#hbg)"/><rect x="1045" y="1010" width="10" height="27" rx="1.5" fill="url(#hbg)"/><rect x="1057" y="1010" width="10" height="27" rx="1.5" fill="url(#hbg)"/><rect x="1069" y="1010" width="10" height="27" rx="1.5" fill="url(#hbg)"/><rect x="1081" y="1010" width="10" height="27" rx="1.5" fill="url(#hbg)"/><rect x="1093" y="1010" width="10" height="27" rx="1.5" fill="url(#hbg)"/></svg>
</section>
<section class="p" id="panel-mem" aria-label="Memory Usage">
<div class="panel" style="left:1277px;top:749px;width:1252px;height:296px"></div>
<h2 class="t" style="left:1286.37px;top:757px;font-size:14.98px;line-height:17px;color:#ccccdc;letter-spacing:0.14px;-webkit-text-stroke:0.8px #ccccdc;">Memory Usage</h2>
<svg style="left:1277px;top:749px" width="1252" height="296" viewBox="1277 749 1252 296" ><defs><radialGradient id="memg" cx="0.5" cy="0.5" r="0.7071"><stop offset="0.1" stop-color="#1a1b1f" stop-opacity="0"/><stop offset="1" stop-color="#1a1b1f" stop-opacity="0.42"/></radialGradient><pattern id="memp" x="1286" y="790" width="12" height="246" patternUnits="userSpaceOnUse"><rect width="10" height="246" rx="2" fill="url(#memg)"/></pattern></defs><rect x="1286" y="790" width="10" height="246" rx="2" fill="#6fb765"/><rect x="1298" y="790" width="10" height="246" rx="2" fill="#71b764"/><rect x="1310" y="790" width="10" height="246" rx="2" fill="#74b863"/><rect x="1322" y="790" width="10" height="246" rx="2" fill="#77b961"/><rect x="1334" y="790" width="10" height="246" rx="2" fill="#7ab960"/><rect x="1346" y="790" width="10" height="246" rx="2" fill="#7dba5f"/><rect x="1358" y="790" width="10" height="246" rx="2" fill="#80bb5d"/><rect x="1370" y="790" width="10" height="246" rx="2" fill="#83bb5c"/><rect x="1382" y="790" width="10" height="246" rx="2" fill="#85bc5b"/><rect x="1394" y="790" width="10" height="246" rx="2" fill="#88bd59"/><rect x="1406" y="790" width="10" height="246" rx="2" fill="#8bbd58"/><rect x="1418" y="790" width="10" height="246" rx="2" fill="#8ebe57"/><rect x="1430" y="790" width="10" height="246" rx="2" fill="#91be56"/><rect x="1442" y="790" width="10" height="246" rx="2" fill="#93bf54"/><rect x="1454" y="790" width="10" height="246" rx="2" fill="#96bf53"/><rect x="1466" y="790" width="10" height="246" rx="2" fill="#99c052"/><rect x="1478" y="790" width="10" height="246" rx="2" fill="#9cc051"/><rect x="1490" y="790" width="10" height="246" rx="2" fill="#9ec04f"/><rect x="1502" y="790" width="10" height="246" rx="2" fill="#a1c14e"/><rect x="1514" y="790" width="10" height="246" rx="2" fill="#a4c14d"/><rect x="1526" y="790" width="10" height="246" rx="2" fill="#a6c14c"/><rect x="1538" y="790" width="10" height="246" rx="2" fill="#a9c24b"/><rect x="1550" y="790" width="10" height="246" rx="2" fill="#abc24a"/><rect x="1562" y="790" width="10" height="246" rx="2" fill="#aec249"/><rect x="1574" y="790" width="10" height="246" rx="2" fill="#b0c248"/><rect x="1586" y="790" width="10" height="246" rx="2" fill="#b3c247"/><rect x="1598" y="790" width="10" height="246" rx="2" fill="#b5c246"/><rect x="1610" y="790" width="10" height="246" rx="2" fill="#b7c245"/><rect x="1622" y="790" width="10" height="246" rx="2" fill="#bac244"/><rect x="1634" y="790" width="10" height="246" rx="2" fill="#bcc243"/><rect x="1646" y="790" width="10" height="246" rx="2" fill="#bec242"/><rect x="1658" y="790" width="10" height="246" rx="2" fill="#c0c242"/><rect x="1670" y="790" width="10" height="246" rx="2" fill="#c2c141"/><rect x="1682" y="790" width="10" height="246" rx="2" fill="#c4c140"/><rect x="1694" y="790" width="10" height="246" rx="2" fill="#c6c140"/><rect x="1706" y="790" width="10" height="246" rx="2" fill="#c8c03f"/><rect x="1718" y="790" width="10" height="246" rx="2" fill="#cac03e"/><rect x="1730" y="790" width="10" height="246" rx="2" fill="#ccbf3e"/><rect x="1742" y="790" width="10" height="246" rx="2" fill="#cebe3d"/><rect x="1754" y="790" width="10" height="246" rx="2" fill="#d0bd3d"/><rect x="1766" y="790" width="10" height="246" rx="2" fill="#d1bd3c"/><rect x="1778" y="790" width="10" height="246" rx="2" fill="#d3bc3c"/><rect x="1790" y="790" width="10" height="246" rx="2" fill="#d5bb3c"/><rect x="1802" y="790" width="10" height="246" rx="2" fill="#d6ba3c"/><rect x="1814" y="790" width="10" height="246" rx="2" fill="#d7b83b"/><rect x="1826" y="790" width="10" height="246" rx="2" fill="#d9b73b"/><rect x="1838" y="790" width="10" height="246" rx="2" fill="#dab63b"/><rect x="1850" y="790" width="10" height="246" rx="2" fill="#dbb43b"/><rect x="1862" y="790" width="10" height="246" rx="2" fill="#dcb33b"/><rect x="1874" y="790" width="10" height="246" rx="2" fill="#deb13b"/><rect x="1886" y="790" width="10" height="246" rx="2" fill="#dfb03b"/><rect x="1898" y="790" width="10" height="246" rx="2" fill="#e0ae3c"/><rect x="1910" y="790" width="10" height="246" rx="2" fill="#e1ac3c"/><rect x="1922" y="790" width="10" height="246" rx="2" fill="#e1aa3c"/><rect x="1934" y="790" width="10" height="246" rx="2" fill="#e2a83c"/><rect x="1946" y="790" width="10" height="246" rx="2" fill="#e3a63d"/><rect x="1958" y="790" width="10" height="246" rx="2" fill="#e4a43d"/><rect x="1970" y="790" width="10" height="246" rx="2" fill="#e4a23d"/><rect x="1982" y="790" width="10" height="246" rx="2" fill="#e5a03e"/><rect x="1994" y="790" width="10" height="246" rx="2" fill="#e59d3e"/><rect x="2006" y="790" width="10" height="246" rx="2" fill="#e69b3f"/><rect x="2018" y="790" width="10" height="246" rx="2" fill="#e69940"/><rect x="2030" y="790" width="10" height="246" rx="2" fill="#e79640"/><rect x="2042" y="790" width="10" height="246" rx="2" fill="#e79441"/><rect x="2054" y="790" width="10" height="246" rx="2" fill="#e79141"/><rect x="2066" y="790" width="10" height="246" rx="2" fill="#e88f42"/><rect x="2078" y="790" width="10" height="246" rx="2" fill="#e88c43"/><rect x="2090" y="790" width="10" height="246" rx="2" fill="#e88944"/><rect x="2102" y="790" width="10" height="246" rx="2" fill="#e88744"/><rect x="2114" y="790" width="10" height="246" rx="2" fill="#e98445"/><rect x="2126" y="790" width="10" height="246" rx="2" fill="#e98146"/><rect x="2138" y="790" width="10" height="246" rx="2" fill="#e97e47"/><rect x="2150" y="790" width="10" height="246" rx="2" fill="#e97b48"/><rect x="2162" y="790" width="10" height="246" rx="2" fill="#e97849"/><rect x="2174" y="790" width="10" height="246" rx="2" fill="#432d28"/><rect x="2186" y="790" width="10" height="246" rx="2" fill="#432c28"/><rect x="2198" y="790" width="10" height="246" rx="2" fill="#432c28"/><rect x="2210" y="790" width="10" height="246" rx="2" fill="#432b28"/><rect x="2222" y="790" width="10" height="246" rx="2" fill="#432b28"/><rect x="2234" y="790" width="10" height="246" rx="2" fill="#432a28"/><rect x="2246" y="790" width="10" height="246" rx="2" fill="#432929"/><rect x="2258" y="790" width="10" height="246" rx="2" fill="#432929"/><rect x="2270" y="790" width="10" height="246" rx="2" fill="#432829"/><rect x="2282" y="790" width="10" height="246" rx="2" fill="#432829"/><rect x="2294" y="790" width="10" height="246" rx="2" fill="#43272a"/><rect x="2306" y="790" width="10" height="246" rx="2" fill="#43262a"/><rect x="2318" y="790" width="10" height="246" rx="2" fill="#43262a"/><rect x="2330" y="790" width="10" height="246" rx="2" fill="#43252a"/><rect x="2342" y="790" width="10" height="246" rx="2" fill="#43242a"/><rect x="2354" y="790" width="10" height="246" rx="2" fill="#43242b"/><rect x="1286" y="790" width="888" height="246" fill="url(#memp)"/></svg>
<span class="t" style="left:2406.27px;top:893px;font-size:33.6px;line-height:37px;color:#f0804a;letter-spacing:1.57px;-webkit-text-stroke:0.7px #f0804a;">357</span>
<span class="t" style="left:2469.94px;top:905px;font-size:20.2px;line-height:22px;color:#f0804a;letter-spacing:0.82px;-webkit-text-stroke:0.6px #f0804a;">MiB</span>
</section>
<section class="p" id="panel-rw" aria-label="Read, Write I/O">
<div class="panel" style="left:16px;top:1053px;width:1253px;height:296px"></div>
<h2 class="t" style="left:25.37px;top:1061px;font-size:14.98px;line-height:17px;color:#ccccdc;letter-spacing:-0.04px;-webkit-text-stroke:0.8px #ccccdc;">Read, Write I/O</h2>
<svg style="left:16px;top:1053px" width="1253" height="195" viewBox="16 1053 1253 195" ><path d="M87.2 1118.5H1252.7M87.2 1144.5H1252.7M87.2 1170.5H1252.7M87.2 1196.5H1252.7M87.2 1223.5H1252.7M164.5 1102.5V1250M359.5 1102.5V1250M553.5 1102.5V1250M747.5 1102.5V1250M941.5 1102.5V1250M1135.5 1102.5V1250" fill="none" stroke="#2e2f35" stroke-width="1"/><path d="M87.2 1249.4 L96.3 1223.5 L106.3 1223.5 L116.4 1198.4 L126.4 1198.4 L135.7 1119.4 L145.8 1119.4 L155.9 1249.4" fill="none" stroke="#73bf69" stroke-width="1.1" stroke-linejoin="round" /><path d="M87.2 1249.4 L96.3 1230.3 L106.3 1230.3 L116.4 1209.4 L126.4 1209.4 L135.7 1165.2 L145.8 1165.2 L155.9 1249.4" fill="none" stroke="#f2cc0c" stroke-width="1.1" stroke-linejoin="round" /><path d="M262 1249.4 L271.5 1242.3 L284 1242.3 L289 1243.4 L300.5 1243.4 L310.5 1249.4" fill="none" stroke="#73bf69" stroke-width="1.1" stroke-linejoin="round" /><path d="M339 1249.4 L349 1245.9 L360 1245.9 L370 1249.4" fill="none" stroke="#73bf69" stroke-width="1.1" stroke-linejoin="round" /><path d="M377 1249.4 L387 1245.9 L400 1245.9 L410 1249.4" fill="none" stroke="#73bf69" stroke-width="1.1" stroke-linejoin="round" /><path d="M688 1249.4 L698 1245.9 L710 1245.9 L720 1249.4" fill="none" stroke="#73bf69" stroke-width="1.1" stroke-linejoin="round" /><path d="M844 1249.4 L854 1245.9 L864 1245.9 L874 1249.4" fill="none" stroke="#73bf69" stroke-width="1.1" stroke-linejoin="round" /><path d="M884 1249.4 L894 1245.9 L904 1245.9 L914 1249.4" fill="none" stroke="#73bf69" stroke-width="1.1" stroke-linejoin="round" /><path d="M960 1249.4 L970 1245.9 L982 1245.9 L992 1249.4" fill="none" stroke="#73bf69" stroke-width="1.1" stroke-linejoin="round" /><path d="M1000 1249.4 L1010 1245.9 L1020 1245.9 L1030 1249.4" fill="none" stroke="#73bf69" stroke-width="1.1" stroke-linejoin="round" /><text x="29.27" y="1121.9" fill="#ccccdc" stroke="#ccccdc" stroke-width="0.35" style="font-size:12.5px;letter-spacing:0.61px;">2500000</text><text x="29.27" y="1147.9" fill="#ccccdc" stroke="#ccccdc" stroke-width="0.35" style="font-size:12.5px;letter-spacing:0.61px;">2000000</text><text x="29.29" y="1173.9" fill="#ccccdc" stroke="#ccccdc" stroke-width="0.35" style="font-size:12.5px;letter-spacing:0.61px;">1500000</text><text x="29.29" y="1199.9" fill="#ccccdc" stroke="#ccccdc" stroke-width="0.35" style="font-size:12.5px;letter-spacing:0.61px;">1000000</text><text x="36.79" y="1226.9" fill="#ccccdc" stroke="#ccccdc" stroke-width="0.35" style="font-size:12.5px;letter-spacing:0.62px;">500000</text><text x="74.66" y="1253.5" fill="#ccccdc" style="font-size:12.84px;">0</text></svg>
<svg style="left:145px;top:1063px" width="14" height="14" viewBox="0 0 14 14"><g fill="none" stroke="#9c9dab" stroke-width="1.3" stroke-linejoin="round" stroke-linecap="round"><path d="M1.2 3.2 Q1.2 1.8 2.6 1.8 H9 L12.8 5.4 V10.8 Q12.8 12.2 11.4 12.2 H2.6 Q1.2 12.2 1.2 10.8 Z"/><path d="M9 1.9 V5.4 H12.6"/><path d="M3.6 7.2 H6.2 M3.6 9.6 H10.2"/></g></svg>
</section>
<section class="p" id="panel-cpu" aria-label="CPU Usage">
<div class="panel" style="left:1277px;top:1053px;width:1252px;height:296px"></div>
<h2 class="t" style="left:1286.84px;top:1061px;font-size:14.98px;line-height:17px;color:#ccccdc;letter-spacing:-0.38px;-webkit-text-stroke:0.8px #ccccdc;">CPU Usage</h2>
<svg style="left:1277px;top:1053px" width="1252" height="195" viewBox="1277 1053 1252 195" ><path d="M1770.63 1280.58 A139.5 139.5 0 0 1 1998.43 1136.09 L1994.01 1140.85 A133 133 0 0 0 1776.83 1278.62 Z" fill="#73bf69"/><path d="M1998.43 1136.09 A139.5 139.5 0 0 1 2038.41 1202.54 L2032.13 1204.21 A133 133 0 0 0 1994.01 1140.85 Z" fill="#ff9830"/><path d="M2038.41 1202.54 A139.5 139.5 0 0 1 2036.57 1280.58 L2030.37 1278.62 A133 133 0 0 0 2032.13 1204.21 Z" fill="#f2495c"/><path d="M1777.97 1278.25 A131.8 131.8 0 1 1 2029.23 1278.25 L1992.72 1266.67 A93.5 93.5 0 1 0 1814.48 1266.67 Z" fill="#23252b"/><text x="1835.05" y="1258.2" fill="#73bf69" stroke="#73bf69" stroke-width="0.5" style="font-size:35px;letter-spacing:2.11px;">4.00 ms</text></svg>
<svg style="left:1380px;top:1063px" width="14" height="14" viewBox="0 0 14 14"><g fill="none" stroke="#9c9dab" stroke-width="1.3" stroke-linejoin="round" stroke-linecap="round"><path d="M1.2 3.2 Q1.2 1.8 2.6 1.8 H9 L12.8 5.4 V10.8 Q12.8 12.2 11.4 12.2 H2.6 Q1.2 12.2 1.2 10.8 Z"/><path d="M9 1.9 V5.4 H12.6"/><path d="M3.6 7.2 H6.2 M3.6 9.6 H10.2"/></g></svg>
</section>
</main>
</body></html>
